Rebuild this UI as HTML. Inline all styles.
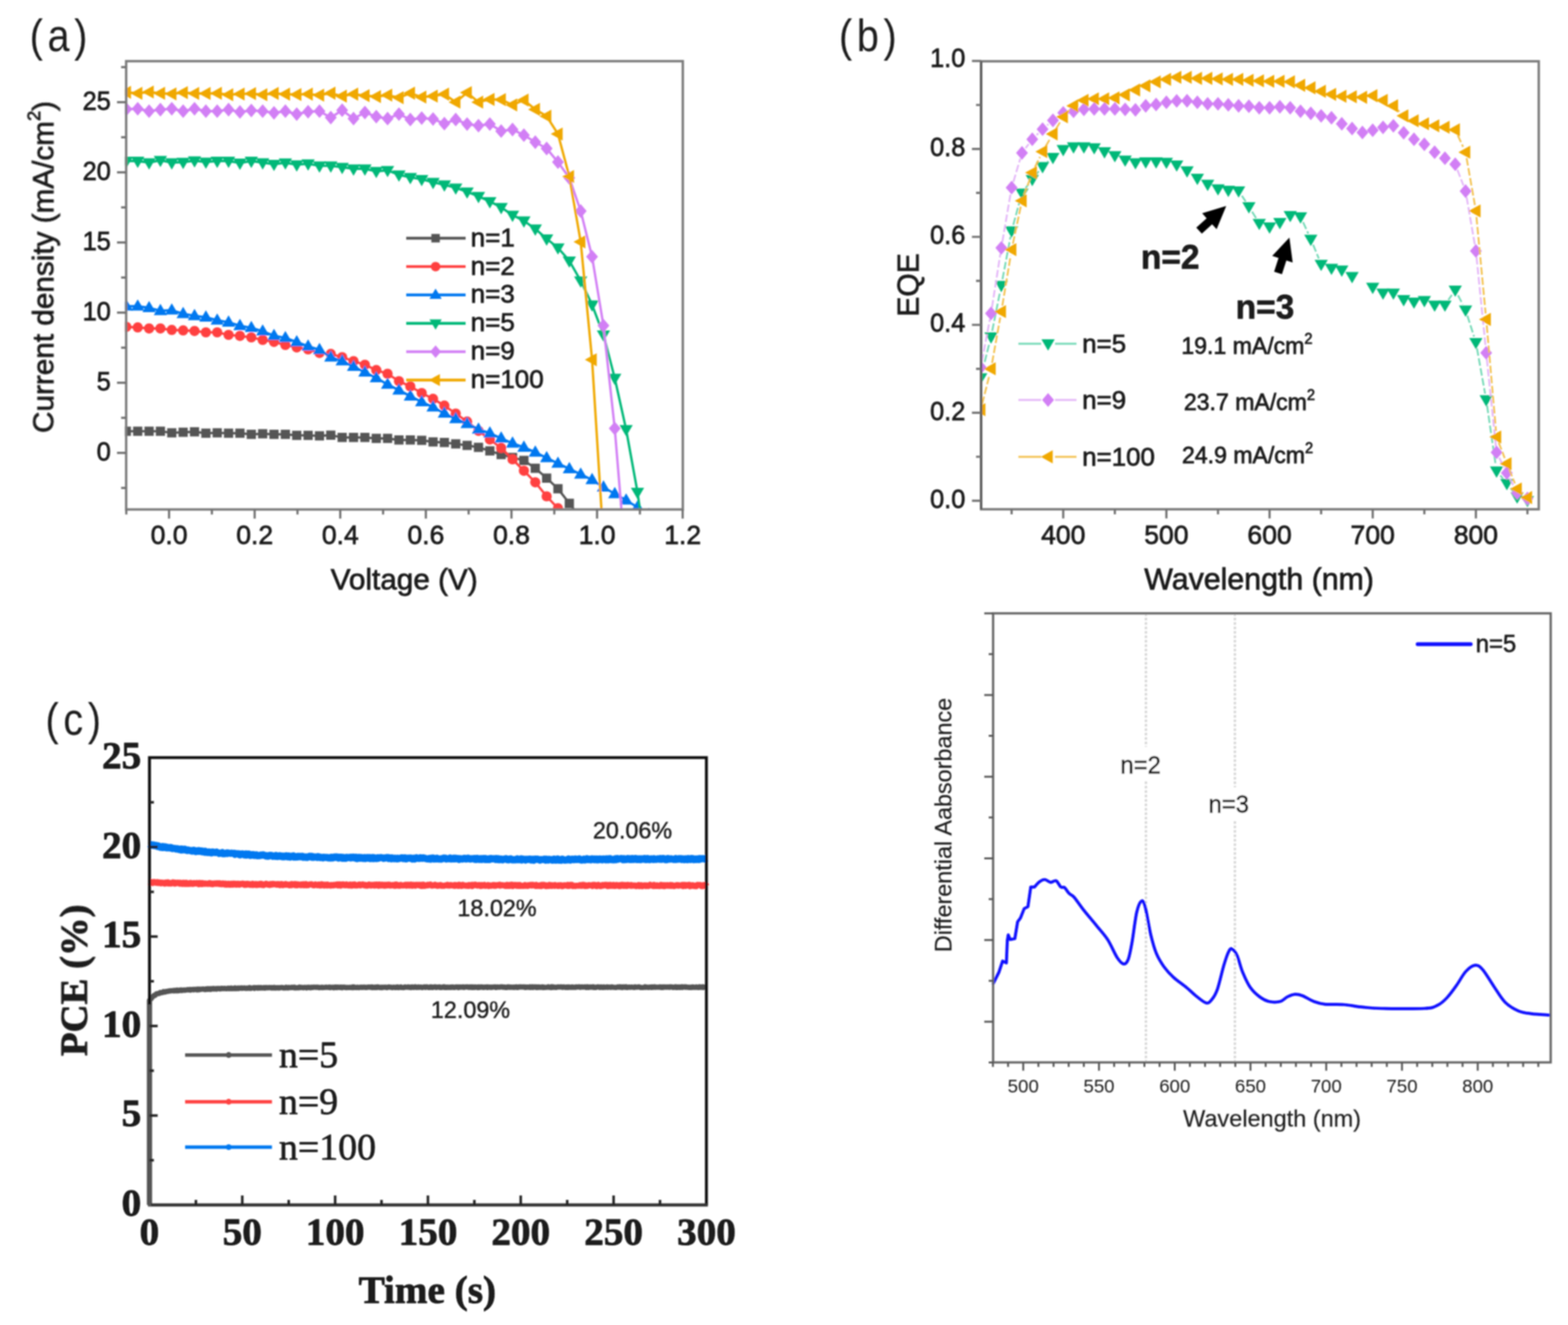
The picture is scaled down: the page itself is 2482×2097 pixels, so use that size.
<!DOCTYPE html>
<html lang="en"><head><meta charset="utf-8"><title>Figure: J-V curves, EQE, stabilized PCE and differential absorbance</title>
<style>
html,body{margin:0;padding:0;background:#fff;}
body{width:2482px;height:2097px;overflow:hidden;}
svg{display:block;}
text{font-family:"Liberation Sans",sans-serif;fill:#1a1a1a;}
.ser{font-family:"Liberation Serif",serif;}
</style></head><body>
<svg width="2482" height="2097" viewBox="0 0 2482 2097">
<defs><filter id="soft" x="0" y="0" width="2482" height="2097" filterUnits="userSpaceOnUse"><feGaussianBlur stdDeviation="0.8"/></filter></defs>
<rect width="2482" height="2097" fill="#ffffff"/>
<g filter="url(#soft)">
<g id="panel-a">
<clipPath id="clipA"><rect x="197.7" y="96.8" width="883.0999999999999" height="711.0"/></clipPath>
<g clip-path="url(#clipA)">
<polyline fill="none" stroke="#555555" stroke-width="3.7" stroke-linejoin="round" points="200,682.5 218,682.5 236,682.5 253.9,682.5 271.9,685 289.9,684.1 307.9,683.4 325.9,685.6 343.8,685 361.8,685.6 379.8,685.6 397.8,687.4 415.8,686.5 433.7,687.4 451.7,687.4 469.7,689 487.7,689 505.7,689.8 523.6,688.7 541.6,692.3 559.6,692.3 577.6,692.3 595.6,693.8 613.5,693.8 631.5,696.3 649.5,696.3 667.5,696.9 685.5,699.4 703.4,700.3 721.4,702.5 739.4,704.9 757.4,708 775.4,713.6 793.3,719.4 811.3,724 829.3,728.7 847.3,741.1 865.3,756.7 883.2,773.5 901.2,796.6 919.2,821"/>
<rect x="192.7" y="675.2" width="14.6" height="14.6" fill="#555555"/><rect x="210.7" y="675.2" width="14.6" height="14.6" fill="#555555"/><rect x="228.7" y="675.2" width="14.6" height="14.6" fill="#555555"/><rect x="246.6" y="675.2" width="14.6" height="14.6" fill="#555555"/><rect x="264.6" y="677.7" width="14.6" height="14.6" fill="#555555"/><rect x="282.6" y="676.8" width="14.6" height="14.6" fill="#555555"/><rect x="300.6" y="676.1" width="14.6" height="14.6" fill="#555555"/><rect x="318.6" y="678.3" width="14.6" height="14.6" fill="#555555"/><rect x="336.5" y="677.7" width="14.6" height="14.6" fill="#555555"/><rect x="354.5" y="678.3" width="14.6" height="14.6" fill="#555555"/><rect x="372.5" y="678.3" width="14.6" height="14.6" fill="#555555"/><rect x="390.5" y="680.1" width="14.6" height="14.6" fill="#555555"/><rect x="408.5" y="679.2" width="14.6" height="14.6" fill="#555555"/><rect x="426.4" y="680.1" width="14.6" height="14.6" fill="#555555"/><rect x="444.4" y="680.1" width="14.6" height="14.6" fill="#555555"/><rect x="462.4" y="681.7" width="14.6" height="14.6" fill="#555555"/><rect x="480.4" y="681.7" width="14.6" height="14.6" fill="#555555"/><rect x="498.4" y="682.5" width="14.6" height="14.6" fill="#555555"/><rect x="516.3" y="681.4" width="14.6" height="14.6" fill="#555555"/><rect x="534.3" y="685" width="14.6" height="14.6" fill="#555555"/><rect x="552.3" y="685" width="14.6" height="14.6" fill="#555555"/><rect x="570.3" y="685" width="14.6" height="14.6" fill="#555555"/><rect x="588.3" y="686.5" width="14.6" height="14.6" fill="#555555"/><rect x="606.2" y="686.5" width="14.6" height="14.6" fill="#555555"/><rect x="624.2" y="689" width="14.6" height="14.6" fill="#555555"/><rect x="642.2" y="689" width="14.6" height="14.6" fill="#555555"/><rect x="660.2" y="689.6" width="14.6" height="14.6" fill="#555555"/><rect x="678.2" y="692.1" width="14.6" height="14.6" fill="#555555"/><rect x="696.1" y="693" width="14.6" height="14.6" fill="#555555"/><rect x="714.1" y="695.2" width="14.6" height="14.6" fill="#555555"/><rect x="732.1" y="697.6" width="14.6" height="14.6" fill="#555555"/><rect x="750.1" y="700.7" width="14.6" height="14.6" fill="#555555"/><rect x="768.1" y="706.3" width="14.6" height="14.6" fill="#555555"/><rect x="786" y="712.1" width="14.6" height="14.6" fill="#555555"/><rect x="804" y="716.7" width="14.6" height="14.6" fill="#555555"/><rect x="822" y="721.4" width="14.6" height="14.6" fill="#555555"/><rect x="840" y="733.8" width="14.6" height="14.6" fill="#555555"/><rect x="858" y="749.4" width="14.6" height="14.6" fill="#555555"/><rect x="875.9" y="766.2" width="14.6" height="14.6" fill="#555555"/><rect x="893.9" y="789.3" width="14.6" height="14.6" fill="#555555"/><rect x="911.9" y="813.7" width="14.6" height="14.6" fill="#555555"/>
<polyline fill="none" stroke="#ff4040" stroke-width="3.7" stroke-linejoin="round" points="200,517.3 218,518.2 236,519.8 253.9,519.8 271.9,522.2 289.9,522.9 307.9,523.8 325.9,526 343.8,526 361.8,530 379.8,531.6 397.8,534 415.8,538 433.7,541.1 451.7,546 469.7,549.8 487.7,552.9 505.7,558.6 523.6,560.2 541.6,565.3 559.6,571.5 577.6,577.3 595.6,585.7 613.5,591.5 631.5,603.3 649.5,611.5 667.5,622.1 685.5,631.2 703.4,641.9 721.4,654.5 739.4,667.2 757.4,681.8 775.4,695.6 793.3,708.9 811.3,726.9 829.3,745.1 847.3,763.3 865.3,785.5 883.2,804.4 901.2,825.5"/>
<circle cx="200" cy="517.3" r="8.1" fill="#ff4040"/><circle cx="218" cy="518.2" r="8.1" fill="#ff4040"/><circle cx="236" cy="519.8" r="8.1" fill="#ff4040"/><circle cx="253.9" cy="519.8" r="8.1" fill="#ff4040"/><circle cx="271.9" cy="522.2" r="8.1" fill="#ff4040"/><circle cx="289.9" cy="522.9" r="8.1" fill="#ff4040"/><circle cx="307.9" cy="523.8" r="8.1" fill="#ff4040"/><circle cx="325.9" cy="526" r="8.1" fill="#ff4040"/><circle cx="343.8" cy="526" r="8.1" fill="#ff4040"/><circle cx="361.8" cy="530" r="8.1" fill="#ff4040"/><circle cx="379.8" cy="531.6" r="8.1" fill="#ff4040"/><circle cx="397.8" cy="534" r="8.1" fill="#ff4040"/><circle cx="415.8" cy="538" r="8.1" fill="#ff4040"/><circle cx="433.7" cy="541.1" r="8.1" fill="#ff4040"/><circle cx="451.7" cy="546" r="8.1" fill="#ff4040"/><circle cx="469.7" cy="549.8" r="8.1" fill="#ff4040"/><circle cx="487.7" cy="552.9" r="8.1" fill="#ff4040"/><circle cx="505.7" cy="558.6" r="8.1" fill="#ff4040"/><circle cx="523.6" cy="560.2" r="8.1" fill="#ff4040"/><circle cx="541.6" cy="565.3" r="8.1" fill="#ff4040"/><circle cx="559.6" cy="571.5" r="8.1" fill="#ff4040"/><circle cx="577.6" cy="577.3" r="8.1" fill="#ff4040"/><circle cx="595.6" cy="585.7" r="8.1" fill="#ff4040"/><circle cx="613.5" cy="591.5" r="8.1" fill="#ff4040"/><circle cx="631.5" cy="603.3" r="8.1" fill="#ff4040"/><circle cx="649.5" cy="611.5" r="8.1" fill="#ff4040"/><circle cx="667.5" cy="622.1" r="8.1" fill="#ff4040"/><circle cx="685.5" cy="631.2" r="8.1" fill="#ff4040"/><circle cx="703.4" cy="641.9" r="8.1" fill="#ff4040"/><circle cx="721.4" cy="654.5" r="8.1" fill="#ff4040"/><circle cx="739.4" cy="667.2" r="8.1" fill="#ff4040"/><circle cx="757.4" cy="681.8" r="8.1" fill="#ff4040"/><circle cx="775.4" cy="695.6" r="8.1" fill="#ff4040"/><circle cx="793.3" cy="708.9" r="8.1" fill="#ff4040"/><circle cx="811.3" cy="726.9" r="8.1" fill="#ff4040"/><circle cx="829.3" cy="745.1" r="8.1" fill="#ff4040"/><circle cx="847.3" cy="763.3" r="8.1" fill="#ff4040"/><circle cx="865.3" cy="785.5" r="8.1" fill="#ff4040"/><circle cx="883.2" cy="804.4" r="8.1" fill="#ff4040"/><circle cx="901.2" cy="825.5" r="8.1" fill="#ff4040"/>
<polyline fill="none" stroke="#0078f0" stroke-width="3.7" stroke-linejoin="round" points="200,484.7 218,484.7 236,487.2 253.9,491.8 271.9,490.9 289.9,496.5 307.9,499.8 325.9,502 343.8,506.9 361.8,510 379.8,515.6 397.8,518.7 415.8,524.2 433.7,531.3 451.7,534.7 469.7,541.3 487.7,548 505.7,553.5 523.6,565.3 541.6,571.3 559.6,580.2 577.6,589.1 595.6,598.2 613.5,608.4 631.5,617.5 649.5,627 667.5,636.1 685.5,644.3 703.4,654.1 721.4,662.8 739.4,670.5 757.4,679.4 775.4,685.6 793.3,693.6 811.3,701.6 829.3,708 847.3,715.8 865.3,724.7 883.2,733.4 901.2,742 919.2,750.7 937.2,759.3 955.2,771.1 973.1,781.5 991.1,791.7 1009.1,802.8 1027.1,814.4"/>
<path d="M189.5 491.6H210.5L200 473.7Z" fill="#0078f0"/><path d="M207.5 491.6H228.5L218 473.7Z" fill="#0078f0"/><path d="M225.5 494.1H246.5L236 476.2Z" fill="#0078f0"/><path d="M243.4 498.7H264.4L253.9 480.8Z" fill="#0078f0"/><path d="M261.4 497.8H282.4L271.9 479.9Z" fill="#0078f0"/><path d="M279.4 503.4H300.4L289.9 485.5Z" fill="#0078f0"/><path d="M297.4 506.7H318.4L307.9 488.8Z" fill="#0078f0"/><path d="M315.4 508.9H336.4L325.9 491Z" fill="#0078f0"/><path d="M333.3 513.8H354.3L343.8 495.9Z" fill="#0078f0"/><path d="M351.3 516.9H372.3L361.8 499Z" fill="#0078f0"/><path d="M369.3 522.5H390.3L379.8 504.6Z" fill="#0078f0"/><path d="M387.3 525.6H408.3L397.8 507.7Z" fill="#0078f0"/><path d="M405.3 531.1H426.3L415.8 513.2Z" fill="#0078f0"/><path d="M423.2 538.2H444.2L433.7 520.3Z" fill="#0078f0"/><path d="M441.2 541.6H462.2L451.7 523.7Z" fill="#0078f0"/><path d="M459.2 548.2H480.2L469.7 530.3Z" fill="#0078f0"/><path d="M477.2 554.9H498.2L487.7 537Z" fill="#0078f0"/><path d="M495.2 560.4H516.2L505.7 542.5Z" fill="#0078f0"/><path d="M513.1 572.2H534.1L523.6 554.3Z" fill="#0078f0"/><path d="M531.1 578.2H552.1L541.6 560.3Z" fill="#0078f0"/><path d="M549.1 587.1H570.1L559.6 569.2Z" fill="#0078f0"/><path d="M567.1 596H588.1L577.6 578.1Z" fill="#0078f0"/><path d="M585.1 605.1H606.1L595.6 587.2Z" fill="#0078f0"/><path d="M603 615.3H624L613.5 597.4Z" fill="#0078f0"/><path d="M621 624.4H642L631.5 606.5Z" fill="#0078f0"/><path d="M639 633.9H660L649.5 616Z" fill="#0078f0"/><path d="M657 643H678L667.5 625.1Z" fill="#0078f0"/><path d="M675 651.2H696L685.5 633.3Z" fill="#0078f0"/><path d="M692.9 661H713.9L703.4 643.1Z" fill="#0078f0"/><path d="M710.9 669.7H731.9L721.4 651.8Z" fill="#0078f0"/><path d="M728.9 677.4H749.9L739.4 659.5Z" fill="#0078f0"/><path d="M746.9 686.3H767.9L757.4 668.4Z" fill="#0078f0"/><path d="M764.9 692.5H785.9L775.4 674.6Z" fill="#0078f0"/><path d="M782.8 700.5H803.8L793.3 682.6Z" fill="#0078f0"/><path d="M800.8 708.5H821.8L811.3 690.6Z" fill="#0078f0"/><path d="M818.8 714.9H839.8L829.3 697Z" fill="#0078f0"/><path d="M836.8 722.7H857.8L847.3 704.8Z" fill="#0078f0"/><path d="M854.8 731.6H875.8L865.3 713.7Z" fill="#0078f0"/><path d="M872.7 740.2H893.7L883.2 722.4Z" fill="#0078f0"/><path d="M890.7 748.9H911.7L901.2 731Z" fill="#0078f0"/><path d="M908.7 757.6H929.7L919.2 739.7Z" fill="#0078f0"/><path d="M926.7 766.2H947.7L937.2 748.3Z" fill="#0078f0"/><path d="M944.7 778H965.7L955.2 760.1Z" fill="#0078f0"/><path d="M962.6 788.4H983.6L973.1 770.5Z" fill="#0078f0"/><path d="M980.6 798.6H1001.6L991.1 780.7Z" fill="#0078f0"/><path d="M998.6 809.7H1019.6L1009.1 791.8Z" fill="#0078f0"/><path d="M1016.6 821.3H1037.6L1027.1 803.4Z" fill="#0078f0"/>
<polyline fill="none" stroke="#00b878" stroke-width="3.7" stroke-linejoin="round" points="200,254.9 218,254.9 236,257.4 253.9,253.6 271.9,257.4 289.9,256.7 307.9,254.3 325.9,256.3 343.8,254.9 361.8,254.9 379.8,258 397.8,254.9 415.8,257.4 433.7,259.8 451.7,257.6 469.7,260.7 487.7,259.2 505.7,262.5 523.6,262.5 541.6,264.7 559.6,267.2 577.6,267.2 595.6,271.1 613.5,269.6 631.5,276.7 649.5,280.7 667.5,283.8 685.5,288.5 703.4,292.5 721.4,297.3 739.4,303.6 757.4,310.7 775.4,318.9 793.3,328.2 811.3,340.4 829.3,349.5 847.3,362.2 865.3,377.9 883.2,392.1 901.2,412.8 919.2,444.3 937.2,482.3 955.2,529.8 973.1,598.4 991.1,679.6 1009.1,778.9 1027.1,905.4"/>
<path d="M189.5 248H210.5L200 265.9Z" fill="#00b878"/><path d="M207.5 248H228.5L218 265.9Z" fill="#00b878"/><path d="M225.5 250.5H246.5L236 268.4Z" fill="#00b878"/><path d="M243.4 246.7H264.4L253.9 264.6Z" fill="#00b878"/><path d="M261.4 250.5H282.4L271.9 268.4Z" fill="#00b878"/><path d="M279.4 249.8H300.4L289.9 267.7Z" fill="#00b878"/><path d="M297.4 247.4H318.4L307.9 265.3Z" fill="#00b878"/><path d="M315.4 249.4H336.4L325.9 267.3Z" fill="#00b878"/><path d="M333.3 248H354.3L343.8 265.9Z" fill="#00b878"/><path d="M351.3 248H372.3L361.8 265.9Z" fill="#00b878"/><path d="M369.3 251.1H390.3L379.8 269Z" fill="#00b878"/><path d="M387.3 248H408.3L397.8 265.9Z" fill="#00b878"/><path d="M405.3 250.5H426.3L415.8 268.4Z" fill="#00b878"/><path d="M423.2 252.9H444.2L433.7 270.8Z" fill="#00b878"/><path d="M441.2 250.7H462.2L451.7 268.6Z" fill="#00b878"/><path d="M459.2 253.8H480.2L469.7 271.7Z" fill="#00b878"/><path d="M477.2 252.3H498.2L487.7 270.2Z" fill="#00b878"/><path d="M495.2 255.6H516.2L505.7 273.5Z" fill="#00b878"/><path d="M513.1 255.6H534.1L523.6 273.5Z" fill="#00b878"/><path d="M531.1 257.8H552.1L541.6 275.7Z" fill="#00b878"/><path d="M549.1 260.3H570.1L559.6 278.2Z" fill="#00b878"/><path d="M567.1 260.3H588.1L577.6 278.2Z" fill="#00b878"/><path d="M585.1 264.2H606.1L595.6 282.1Z" fill="#00b878"/><path d="M603 262.7H624L613.5 280.6Z" fill="#00b878"/><path d="M621 269.8H642L631.5 287.7Z" fill="#00b878"/><path d="M639 273.8H660L649.5 291.7Z" fill="#00b878"/><path d="M657 276.9H678L667.5 294.8Z" fill="#00b878"/><path d="M675 281.6H696L685.5 299.5Z" fill="#00b878"/><path d="M692.9 285.6H713.9L703.4 303.5Z" fill="#00b878"/><path d="M710.9 290.4H731.9L721.4 308.3Z" fill="#00b878"/><path d="M728.9 296.7H749.9L739.4 314.6Z" fill="#00b878"/><path d="M746.9 303.8H767.9L757.4 321.7Z" fill="#00b878"/><path d="M764.9 312H785.9L775.4 329.9Z" fill="#00b878"/><path d="M782.8 321.3H803.8L793.3 339.2Z" fill="#00b878"/><path d="M800.8 333.5H821.8L811.3 351.4Z" fill="#00b878"/><path d="M818.8 342.6H839.8L829.3 360.5Z" fill="#00b878"/><path d="M836.8 355.3H857.8L847.3 373.2Z" fill="#00b878"/><path d="M854.8 371H875.8L865.3 388.9Z" fill="#00b878"/><path d="M872.7 385.2H893.7L883.2 403.1Z" fill="#00b878"/><path d="M890.7 405.9H911.7L901.2 423.8Z" fill="#00b878"/><path d="M908.7 437.4H929.7L919.2 455.3Z" fill="#00b878"/><path d="M926.7 475.4H947.7L937.2 493.3Z" fill="#00b878"/><path d="M944.7 522.9H965.7L955.2 540.8Z" fill="#00b878"/><path d="M962.6 591.5H983.6L973.1 609.4Z" fill="#00b878"/><path d="M980.6 672.7H1001.6L991.1 690.6Z" fill="#00b878"/><path d="M998.6 772H1019.6L1009.1 789.9Z" fill="#00b878"/><path d="M1016.6 898.5H1037.6L1027.1 916.4Z" fill="#00b878"/>
<polyline fill="none" stroke="#d27ff5" stroke-width="3.7" stroke-linejoin="round" points="200,172.8 218,172.1 236,175.9 253.9,173.5 271.9,172.1 289.9,175.9 307.9,172.1 325.9,175.9 343.8,175.9 361.8,173.5 379.8,177.2 397.8,174.8 415.8,175.9 433.7,178.6 451.7,175.9 469.7,180.6 487.7,176.8 505.7,175.9 523.6,186.1 541.6,174.4 559.6,187.7 577.6,178.1 595.6,184.6 613.5,187.7 631.5,180.6 649.5,189.2 667.5,186.8 685.5,188.3 703.4,195.7 721.4,189.2 739.4,196.3 757.4,198.8 775.4,196.3 793.3,207.4 811.3,205 829.3,213.9 847.3,225 865.3,235 883.2,256.5 901.2,281.6 919.2,334 937.2,406.3 955.2,515.3 973.1,678.1 991.1,896.5"/>
<path d="M190.6 172.8L200 161.9L209.4 172.8L200 183.7Z" fill="#d27ff5"/><path d="M208.6 172.1L218 161.2L227.4 172.1L218 183Z" fill="#d27ff5"/><path d="M226.6 175.9L236 165L245.4 175.9L236 186.8Z" fill="#d27ff5"/><path d="M244.5 173.5L253.9 162.6L263.3 173.5L253.9 184.4Z" fill="#d27ff5"/><path d="M262.5 172.1L271.9 161.2L281.3 172.1L271.9 183Z" fill="#d27ff5"/><path d="M280.5 175.9L289.9 165L299.3 175.9L289.9 186.8Z" fill="#d27ff5"/><path d="M298.5 172.1L307.9 161.2L317.3 172.1L307.9 183Z" fill="#d27ff5"/><path d="M316.5 175.9L325.9 165L335.3 175.9L325.9 186.8Z" fill="#d27ff5"/><path d="M334.4 175.9L343.8 165L353.2 175.9L343.8 186.8Z" fill="#d27ff5"/><path d="M352.4 173.5L361.8 162.6L371.2 173.5L361.8 184.4Z" fill="#d27ff5"/><path d="M370.4 177.2L379.8 166.3L389.2 177.2L379.8 188.1Z" fill="#d27ff5"/><path d="M388.4 174.8L397.8 163.9L407.2 174.8L397.8 185.7Z" fill="#d27ff5"/><path d="M406.4 175.9L415.8 165L425.2 175.9L415.8 186.8Z" fill="#d27ff5"/><path d="M424.3 178.6L433.7 167.7L443.1 178.6L433.7 189.5Z" fill="#d27ff5"/><path d="M442.3 175.9L451.7 165L461.1 175.9L451.7 186.8Z" fill="#d27ff5"/><path d="M460.3 180.6L469.7 169.7L479.1 180.6L469.7 191.5Z" fill="#d27ff5"/><path d="M478.3 176.8L487.7 165.9L497.1 176.8L487.7 187.7Z" fill="#d27ff5"/><path d="M496.3 175.9L505.7 165L515.1 175.9L505.7 186.8Z" fill="#d27ff5"/><path d="M514.2 186.1L523.6 175.2L533 186.1L523.6 197Z" fill="#d27ff5"/><path d="M532.2 174.4L541.6 163.5L551 174.4L541.6 185.3Z" fill="#d27ff5"/><path d="M550.2 187.7L559.6 176.8L569 187.7L559.6 198.6Z" fill="#d27ff5"/><path d="M568.2 178.1L577.6 167.2L587 178.1L577.6 189Z" fill="#d27ff5"/><path d="M586.2 184.6L595.6 173.7L605 184.6L595.6 195.5Z" fill="#d27ff5"/><path d="M604.1 187.7L613.5 176.8L622.9 187.7L613.5 198.6Z" fill="#d27ff5"/><path d="M622.1 180.6L631.5 169.7L640.9 180.6L631.5 191.5Z" fill="#d27ff5"/><path d="M640.1 189.2L649.5 178.3L658.9 189.2L649.5 200.1Z" fill="#d27ff5"/><path d="M658.1 186.8L667.5 175.9L676.9 186.8L667.5 197.7Z" fill="#d27ff5"/><path d="M676.1 188.3L685.5 177.4L694.9 188.3L685.5 199.2Z" fill="#d27ff5"/><path d="M694 195.7L703.4 184.8L712.8 195.7L703.4 206.6Z" fill="#d27ff5"/><path d="M712 189.2L721.4 178.3L730.8 189.2L721.4 200.1Z" fill="#d27ff5"/><path d="M730 196.3L739.4 185.4L748.8 196.3L739.4 207.2Z" fill="#d27ff5"/><path d="M748 198.8L757.4 187.9L766.8 198.8L757.4 209.7Z" fill="#d27ff5"/><path d="M766 196.3L775.4 185.4L784.8 196.3L775.4 207.2Z" fill="#d27ff5"/><path d="M783.9 207.4L793.3 196.5L802.7 207.4L793.3 218.3Z" fill="#d27ff5"/><path d="M801.9 205L811.3 194.1L820.7 205L811.3 215.9Z" fill="#d27ff5"/><path d="M819.9 213.9L829.3 203L838.7 213.9L829.3 224.8Z" fill="#d27ff5"/><path d="M837.9 225L847.3 214.1L856.7 225L847.3 235.9Z" fill="#d27ff5"/><path d="M855.9 235L865.3 224.1L874.7 235L865.3 245.9Z" fill="#d27ff5"/><path d="M873.8 256.5L883.2 245.6L892.6 256.5L883.2 267.4Z" fill="#d27ff5"/><path d="M891.8 281.6L901.2 270.7L910.6 281.6L901.2 292.5Z" fill="#d27ff5"/><path d="M909.8 334L919.2 323.1L928.6 334L919.2 344.9Z" fill="#d27ff5"/><path d="M927.8 406.3L937.2 395.4L946.6 406.3L937.2 417.2Z" fill="#d27ff5"/><path d="M945.8 515.3L955.2 504.4L964.6 515.3L955.2 526.2Z" fill="#d27ff5"/><path d="M963.7 678.1L973.1 667.2L982.5 678.1L973.1 689Z" fill="#d27ff5"/><path d="M981.7 896.5L991.1 885.6L1000.5 896.5L991.1 907.4Z" fill="#d27ff5"/>
<polyline fill="none" stroke="#f0a800" stroke-width="3.7" stroke-linejoin="round" points="200,146.2 218,147.7 236,145.7 253.9,147.7 271.9,148.6 289.9,146.6 307.9,147.9 325.9,147.9 343.8,147.7 361.8,149.9 379.8,148.8 397.8,148.2 415.8,149.9 433.7,147.9 451.7,149 469.7,149.7 487.7,149 505.7,150.6 523.6,147.5 541.6,152.2 559.6,149 577.6,151.3 595.6,152.8 613.5,150.6 631.5,154.6 649.5,147.5 667.5,153.7 685.5,152.2 703.4,149 721.4,161.7 739.4,146.6 757.4,161.7 775.4,157.3 793.3,157.7 811.3,166.1 829.3,158.4 847.3,173.2 865.3,183.9 883.2,212.1 901.2,279.4 919.2,382.8 937.2,569.3 955.2,856.6"/>
<path d="M207.4 135.8V156.6L188.6 146.2Z" fill="#f0a800"/><path d="M225.4 137.3V158.1L206.6 147.7Z" fill="#f0a800"/><path d="M243.4 135.3V156.1L224.6 145.7Z" fill="#f0a800"/><path d="M261.3 137.3V158.1L242.5 147.7Z" fill="#f0a800"/><path d="M279.3 138.2V159L260.5 148.6Z" fill="#f0a800"/><path d="M297.3 136.2V157L278.5 146.6Z" fill="#f0a800"/><path d="M315.3 137.5V158.3L296.5 147.9Z" fill="#f0a800"/><path d="M333.3 137.5V158.3L314.5 147.9Z" fill="#f0a800"/><path d="M351.2 137.3V158.1L332.4 147.7Z" fill="#f0a800"/><path d="M369.2 139.5V160.3L350.4 149.9Z" fill="#f0a800"/><path d="M387.2 138.4V159.2L368.4 148.8Z" fill="#f0a800"/><path d="M405.2 137.8V158.6L386.4 148.2Z" fill="#f0a800"/><path d="M423.2 139.5V160.3L404.4 149.9Z" fill="#f0a800"/><path d="M441.1 137.5V158.3L422.3 147.9Z" fill="#f0a800"/><path d="M459.1 138.6V159.4L440.3 149Z" fill="#f0a800"/><path d="M477.1 139.3V160.1L458.3 149.7Z" fill="#f0a800"/><path d="M495.1 138.6V159.4L476.3 149Z" fill="#f0a800"/><path d="M513.1 140.2V161L494.3 150.6Z" fill="#f0a800"/><path d="M531 137.1V157.9L512.2 147.5Z" fill="#f0a800"/><path d="M549 141.8V162.6L530.2 152.2Z" fill="#f0a800"/><path d="M567 138.6V159.4L548.2 149Z" fill="#f0a800"/><path d="M585 140.9V161.7L566.2 151.3Z" fill="#f0a800"/><path d="M603 142.4V163.2L584.2 152.8Z" fill="#f0a800"/><path d="M620.9 140.2V161L602.1 150.6Z" fill="#f0a800"/><path d="M638.9 144.2V165L620.1 154.6Z" fill="#f0a800"/><path d="M656.9 137.1V157.9L638.1 147.5Z" fill="#f0a800"/><path d="M674.9 143.3V164.1L656.1 153.7Z" fill="#f0a800"/><path d="M692.9 141.8V162.6L674.1 152.2Z" fill="#f0a800"/><path d="M710.8 138.6V159.4L692 149Z" fill="#f0a800"/><path d="M728.8 151.3V172.1L710 161.7Z" fill="#f0a800"/><path d="M746.8 136.2V157L728 146.6Z" fill="#f0a800"/><path d="M764.8 151.3V172.1L746 161.7Z" fill="#f0a800"/><path d="M782.8 146.9V167.7L764 157.3Z" fill="#f0a800"/><path d="M800.7 147.3V168.1L781.9 157.7Z" fill="#f0a800"/><path d="M818.7 155.7V176.5L799.9 166.1Z" fill="#f0a800"/><path d="M836.7 148V168.8L817.9 158.4Z" fill="#f0a800"/><path d="M854.7 162.8V183.6L835.9 173.2Z" fill="#f0a800"/><path d="M872.7 173.5V194.3L853.9 183.9Z" fill="#f0a800"/><path d="M890.6 201.7V222.5L871.8 212.1Z" fill="#f0a800"/><path d="M908.6 269V289.8L889.8 279.4Z" fill="#f0a800"/><path d="M926.6 372.4V393.2L907.8 382.8Z" fill="#f0a800"/><path d="M944.6 558.9V579.7L925.8 569.3Z" fill="#f0a800"/><path d="M962.6 846.2V867L943.8 856.6Z" fill="#f0a800"/>
</g>
<rect x="199.7" y="96.8" width="881.0999999999999" height="709.5" fill="none" stroke="#7c7c7c" stroke-width="3.8"/>
<path d="M185.2 716.7H199.7M185.2 605.7H199.7M185.2 494.7H199.7M185.2 383.7H199.7M185.2 272.7H199.7M185.2 161.7H199.7M191.7 772.2H199.7M191.7 661.2H199.7M191.7 550.2H199.7M191.7 439.2H199.7M191.7 328.2H199.7M191.7 217.2H199.7M191.7 106.2H199.7M267.6 806.3V820.8M403.1 806.3V820.8M538.6 806.3V820.8M674.1 806.3V820.8M809.6 806.3V820.8M945.1 806.3V820.8M1080.6 806.3V820.8M199.9 806.3V814.3M335.4 806.3V814.3M470.9 806.3V814.3M606.4 806.3V814.3M741.8 806.3V814.3M877.4 806.3V814.3M1012.9 806.3V814.3" stroke="#707070" stroke-width="3.4" fill="none"/>
<text transform="translate(175.5,728.5) scale(0.96,1)" font-size="42" fill="#0c0c0c" text-anchor="end" stroke="#0c0c0c" stroke-width="0.9">0</text>
<text transform="translate(175.5,617.5) scale(0.96,1)" font-size="42" fill="#0c0c0c" text-anchor="end" stroke="#0c0c0c" stroke-width="0.9">5</text>
<text transform="translate(175.5,506.5) scale(0.96,1)" font-size="42" fill="#0c0c0c" text-anchor="end" stroke="#0c0c0c" stroke-width="0.9">10</text>
<text transform="translate(175.5,395.5) scale(0.96,1)" font-size="42" fill="#0c0c0c" text-anchor="end" stroke="#0c0c0c" stroke-width="0.9">15</text>
<text transform="translate(175.5,284.5) scale(0.96,1)" font-size="42" fill="#0c0c0c" text-anchor="end" stroke="#0c0c0c" stroke-width="0.9">20</text>
<text transform="translate(175.5,173.5) scale(0.96,1)" font-size="42" fill="#0c0c0c" text-anchor="end" stroke="#0c0c0c" stroke-width="0.9">25</text>
<text x="267.6" y="861" font-size="42" fill="#0c0c0c" text-anchor="middle" stroke="#0c0c0c" stroke-width="0.9">0.0</text>
<text x="403.1" y="861" font-size="42" fill="#0c0c0c" text-anchor="middle" stroke="#0c0c0c" stroke-width="0.9">0.2</text>
<text x="538.6" y="861" font-size="42" fill="#0c0c0c" text-anchor="middle" stroke="#0c0c0c" stroke-width="0.9">0.4</text>
<text x="674.1" y="861" font-size="42" fill="#0c0c0c" text-anchor="middle" stroke="#0c0c0c" stroke-width="0.9">0.6</text>
<text x="809.6" y="861" font-size="42" fill="#0c0c0c" text-anchor="middle" stroke="#0c0c0c" stroke-width="0.9">0.8</text>
<text x="945.1" y="861" font-size="42" fill="#0c0c0c" text-anchor="middle" stroke="#0c0c0c" stroke-width="0.9">1.0</text>
<text x="1080.6" y="861" font-size="42" fill="#0c0c0c" text-anchor="middle" stroke="#0c0c0c" stroke-width="0.9">1.2</text>
<text x="639.8" y="933" font-size="47" fill="#0c0c0c" text-anchor="middle" stroke="#0c0c0c" stroke-width="0.9">Voltage (V)</text>
<text transform="translate(84.5,422.5) rotate(-90)" font-size="47" fill="#0c0c0c" text-anchor="middle" stroke="#0c0c0c" stroke-width="0.9">Current density (mA/cm<tspan font-size="29" dy="-21">2</tspan><tspan dy="21">)</tspan></text>
<text transform="translate(47,81) scale(0.87,1)" font-size="72" fill="#0c0c0c" letter-spacing="8.5">(a)</text>
<path d="M643 377H737" stroke="#555555" stroke-width="4.4"/><rect x="682.8" y="370.3" width="13.4" height="13.4" fill="#555555"/>
<text x="745" y="389.6" font-size="41.2" fill="#0c0c0c" stroke="#0c0c0c" stroke-width="0.9">n=1</text>
<path d="M643 421.9H737" stroke="#ff4040" stroke-width="4.4"/><circle cx="689.5" cy="421.9" r="7.5" fill="#ff4040"/>
<text x="745" y="434.5" font-size="41.2" fill="#0c0c0c" stroke="#0c0c0c" stroke-width="0.9">n=2</text>
<path d="M643 466.8H737" stroke="#0078f0" stroke-width="4.4"/><path d="M679.8 473.1H699.2L689.5 456.7Z" fill="#0078f0"/>
<text x="745" y="479.4" font-size="41.2" fill="#0c0c0c" stroke="#0c0c0c" stroke-width="0.9">n=3</text>
<path d="M643 511.7H737" stroke="#00b878" stroke-width="4.4"/><path d="M679.8 505.4H699.2L689.5 521.8Z" fill="#00b878"/>
<text x="745" y="524.3" font-size="41.2" fill="#0c0c0c" stroke="#0c0c0c" stroke-width="0.9">n=5</text>
<path d="M643 556.6H737" stroke="#d27ff5" stroke-width="4.4"/><path d="M680.9 556.6L689.5 546.6L698.1 556.6L689.5 566.6Z" fill="#d27ff5"/>
<text x="745" y="569.2" font-size="41.2" fill="#0c0c0c" stroke="#0c0c0c" stroke-width="0.9">n=9</text>
<path d="M643 601.5H737" stroke="#f0a800" stroke-width="4.4"/><path d="M696.3 591.9V611.1L679 601.5Z" fill="#f0a800"/>
<text x="745" y="614.1" font-size="41.2" fill="#0c0c0c" stroke="#0c0c0c" stroke-width="0.9">n=100</text>
</g>
<g id="panel-b">
<clipPath id="clipB"><rect x="1551.0" y="97.0" width="884.6999999999998" height="710.5"/></clipPath>
<g clip-path="url(#clipB)">
<path fill="none" stroke="#6fd8b4" stroke-width="2.8" stroke-dasharray="12 4" d="M1554.7 588.4L1566.4 542.1M1570.6 523.6L1583.2 460.8M1586.8 442.1L1599.6 374.5M1603.9 356L1615.2 314.5M1623.4 297.7L1628.3 291.3M1640 276.3L1644.4 270.9M1657.4 257.2L1659.6 255.3M1965.8 309.8L1971.8 318.9M1981.9 335L1988.3 345.2M2062.6 351.5L2070.9 369.7M2078.5 387.2L2087.6 409.3M2292.6 474.7L2298.2 466.7M2307.9 467.3L2315.5 482M2322.7 499.5L2333.3 532.7M2337.9 551.2L2350.8 623.1M2353.9 641.8L2367.5 735.8M2374.9 752.5L2379.2 757.7M2391 772.5L2395.7 778.7"/>
<path d="M1541.9 590.7H1562.9L1552.4 608.6Z" fill="#00b878"/><path d="M1558.2 526H1579.2L1568.7 543.9Z" fill="#00b878"/><path d="M1574.5 444.6H1595.5L1585 462.5Z" fill="#00b878"/><path d="M1590.8 358.3H1611.8L1601.3 376.2Z" fill="#00b878"/><path d="M1607.2 298.4H1628.2L1617.7 316.3Z" fill="#00b878"/><path d="M1623.5 276.8H1644.5L1634 294.7Z" fill="#00b878"/><path d="M1639.8 256.6H1660.8L1650.3 274.5Z" fill="#00b878"/><path d="M1656.2 242H1677.2L1666.7 259.9Z" fill="#00b878"/><path d="M1672.5 229.5H1693.5L1683 247.4Z" fill="#00b878"/><path d="M1688.8 225.3H1709.8L1699.3 243.2Z" fill="#00b878"/><path d="M1705.2 225.3H1726.2L1715.7 243.2Z" fill="#00b878"/><path d="M1721.5 226.7H1742.5L1732 244.6Z" fill="#00b878"/><path d="M1737.8 233H1758.8L1748.3 250.9Z" fill="#00b878"/><path d="M1754.2 239.2H1775.2L1764.7 257.1Z" fill="#00b878"/><path d="M1770.5 246.2H1791.5L1781 264.1Z" fill="#00b878"/><path d="M1786.8 250.4H1807.8L1797.3 268.3Z" fill="#00b878"/><path d="M1803.1 249H1824.1L1813.6 266.9Z" fill="#00b878"/><path d="M1819.5 249H1840.5L1830 266.9Z" fill="#00b878"/><path d="M1835.8 249.7H1856.8L1846.3 267.6Z" fill="#00b878"/><path d="M1852.1 253.9H1873.1L1862.6 271.8Z" fill="#00b878"/><path d="M1868.5 263.3H1889.5L1879 281.2Z" fill="#00b878"/><path d="M1884.8 275.1H1905.8L1895.3 293Z" fill="#00b878"/><path d="M1901.1 284.6H1922.1L1911.6 302.5Z" fill="#00b878"/><path d="M1917.5 291.7H1938.5L1928 309.6Z" fill="#00b878"/><path d="M1933.8 294.1H1954.8L1944.3 312Z" fill="#00b878"/><path d="M1950.1 294.9H1971.1L1960.6 312.8Z" fill="#00b878"/><path d="M1966.4 320H1987.4L1976.9 337.9Z" fill="#00b878"/><path d="M1982.8 346.4H2003.8L1993.3 364.3Z" fill="#00b878"/><path d="M1999.1 352H2020.1L2009.6 369.9Z" fill="#00b878"/><path d="M2015.4 345H2036.4L2025.9 362.9Z" fill="#00b878"/><path d="M2031.8 333.9H2052.8L2042.3 351.8Z" fill="#00b878"/><path d="M2048.1 336H2069.1L2058.6 353.9Z" fill="#00b878"/><path d="M2064.4 371.5H2085.4L2074.9 389.4Z" fill="#00b878"/><path d="M2080.8 411.2H2101.8L2091.2 429.1Z" fill="#00b878"/><path d="M2097.1 417.4H2118.1L2107.6 435.3Z" fill="#00b878"/><path d="M2113.4 420.3H2134.4L2123.9 438.2Z" fill="#00b878"/><path d="M2129.7 430.6H2150.7L2140.2 448.5Z" fill="#00b878"/><path d="M2162.4 447.6H2183.4L2172.9 465.5Z" fill="#00b878"/><path d="M2178.7 456.7H2199.7L2189.2 474.6Z" fill="#00b878"/><path d="M2195.1 456.7H2216.1L2205.6 474.6Z" fill="#00b878"/><path d="M2211.4 467H2232.4L2221.9 484.9Z" fill="#00b878"/><path d="M2227.7 470.9H2248.7L2238.2 488.8Z" fill="#00b878"/><path d="M2244.1 468.5H2265.1L2254.6 486.4Z" fill="#00b878"/><path d="M2260.4 475.7H2281.4L2270.9 493.6Z" fill="#00b878"/><path d="M2276.7 475.7H2297.7L2287.2 493.6Z" fill="#00b878"/><path d="M2293 451.9H2314L2303.5 469.8Z" fill="#00b878"/><path d="M2309.4 483.5H2330.4L2319.9 501.4Z" fill="#00b878"/><path d="M2325.7 534.9H2346.7L2336.2 552.8Z" fill="#00b878"/><path d="M2342 625.5H2363L2352.5 643.4Z" fill="#00b878"/><path d="M2358.4 738.3H2379.4L2368.9 756.2Z" fill="#00b878"/><path d="M2374.7 758.1H2395.7L2385.2 776Z" fill="#00b878"/><path d="M2391 779.3H2412L2401.5 797.2Z" fill="#00b878"/><path d="M2407.3 784.9H2428.3L2417.8 802.8Z" fill="#00b878"/>
<path fill="none" stroke="#e3b4f8" stroke-width="2.8" stroke-dasharray="12 4" d="M1554.1 572.3L1566.9 505.3M1570.2 486.6L1583.5 401.7M1586.6 382.9L1599.7 306.3M1604.1 287.8L1615 251.1M1623.4 234.4L1628.3 228M1640.8 213.7L1643.6 211M1657.6 198.2L1659.4 196.6M2306.9 268.8L2316.5 293.6M2321.5 311.9L2334.6 387.8M2337.2 406.6L2351.6 549M2353.5 567.9L2367.9 706.5M2373.1 724.4L2380.9 740M2389.6 756.9L2397.1 771.5"/>
<path d="M1543 581.6L1552.4 570.7L1561.8 581.6L1552.4 592.5Z" fill="#d27ff5"/><path d="M1559.3 496L1568.7 485.1L1578.1 496L1568.7 506.9Z" fill="#d27ff5"/><path d="M1575.6 392.3L1585 381.4L1594.4 392.3L1585 403.2Z" fill="#d27ff5"/><path d="M1591.9 296.9L1601.3 286L1610.8 296.9L1601.3 307.8Z" fill="#d27ff5"/><path d="M1608.3 242L1617.7 231.1L1627.1 242L1617.7 252.9Z" fill="#d27ff5"/><path d="M1624.6 220.4L1634 209.5L1643.4 220.4L1634 231.3Z" fill="#d27ff5"/><path d="M1640.9 204.4L1650.3 193.5L1659.7 204.4L1650.3 215.3Z" fill="#d27ff5"/><path d="M1657.3 190.5L1666.7 179.6L1676.1 190.5L1666.7 201.4Z" fill="#d27ff5"/><path d="M1673.6 178.6L1683 167.7L1692.4 178.6L1683 189.5Z" fill="#d27ff5"/><path d="M1689.9 176.2L1699.3 165.3L1708.7 176.2L1699.3 187.1Z" fill="#d27ff5"/><path d="M1706.3 173.1L1715.7 162.2L1725.1 173.1L1715.7 184Z" fill="#d27ff5"/><path d="M1722.6 172.4L1732 161.5L1741.4 172.4L1732 183.3Z" fill="#d27ff5"/><path d="M1738.9 172.4L1748.3 161.5L1757.7 172.4L1748.3 183.3Z" fill="#d27ff5"/><path d="M1755.2 172.4L1764.7 161.5L1774.1 172.4L1764.7 183.3Z" fill="#d27ff5"/><path d="M1771.6 173.1L1781 162.2L1790.4 173.1L1781 184Z" fill="#d27ff5"/><path d="M1787.9 173.8L1797.3 162.9L1806.7 173.8L1797.3 184.7Z" fill="#d27ff5"/><path d="M1804.2 167.5L1813.6 156.6L1823 167.5L1813.6 178.4Z" fill="#d27ff5"/><path d="M1820.6 165.4L1830 154.5L1839.4 165.4L1830 176.3Z" fill="#d27ff5"/><path d="M1836.9 161.9L1846.3 151L1855.7 161.9L1846.3 172.8Z" fill="#d27ff5"/><path d="M1853.2 159.7L1862.6 148.8L1872 159.7L1862.6 170.6Z" fill="#d27ff5"/><path d="M1869.6 159.5L1879 148.6L1888.4 159.5L1879 170.4Z" fill="#d27ff5"/><path d="M1885.9 161.9L1895.3 151L1904.7 161.9L1895.3 172.8Z" fill="#d27ff5"/><path d="M1902.2 164.3L1911.6 153.4L1921 164.3L1911.6 175.2Z" fill="#d27ff5"/><path d="M1918.5 164.3L1928 153.4L1937.4 164.3L1928 175.2Z" fill="#d27ff5"/><path d="M1934.9 165.9L1944.3 155L1953.7 165.9L1944.3 176.8Z" fill="#d27ff5"/><path d="M1951.2 167.5L1960.6 156.6L1970 167.5L1960.6 178.4Z" fill="#d27ff5"/><path d="M1967.5 168.2L1976.9 157.3L1986.3 168.2L1976.9 179.1Z" fill="#d27ff5"/><path d="M1983.9 170.6L1993.3 159.7L2002.7 170.6L1993.3 181.5Z" fill="#d27ff5"/><path d="M2000.2 170.6L2009.6 159.7L2019 170.6L2009.6 181.5Z" fill="#d27ff5"/><path d="M2016.5 169L2025.9 158.1L2035.3 169L2025.9 179.9Z" fill="#d27ff5"/><path d="M2032.9 170.6L2042.3 159.7L2051.7 170.6L2042.3 181.5Z" fill="#d27ff5"/><path d="M2049.2 176.1L2058.6 165.2L2068 176.1L2058.6 187Z" fill="#d27ff5"/><path d="M2065.5 179.3L2074.9 168.4L2084.3 179.3L2074.9 190.2Z" fill="#d27ff5"/><path d="M2081.8 183.3L2091.2 172.4L2100.7 183.3L2091.2 194.2Z" fill="#d27ff5"/><path d="M2098.2 186.4L2107.6 175.5L2117 186.4L2107.6 197.3Z" fill="#d27ff5"/><path d="M2114.5 195.9L2123.9 185L2133.3 195.9L2123.9 206.8Z" fill="#d27ff5"/><path d="M2130.8 203.4L2140.2 192.5L2149.6 203.4L2140.2 214.3Z" fill="#d27ff5"/><path d="M2147.2 209.7L2156.6 198.8L2166 209.7L2156.6 220.6Z" fill="#d27ff5"/><path d="M2163.5 206.2L2172.9 195.3L2182.3 206.2L2172.9 217.1Z" fill="#d27ff5"/><path d="M2179.8 201.6L2189.2 190.7L2198.6 201.6L2189.2 212.5Z" fill="#d27ff5"/><path d="M2196.2 199.1L2205.6 188.2L2215 199.1L2205.6 210Z" fill="#d27ff5"/><path d="M2212.5 210.1L2221.9 199.2L2231.3 210.1L2221.9 221Z" fill="#d27ff5"/><path d="M2228.8 220.4L2238.2 209.5L2247.6 220.4L2238.2 231.3Z" fill="#d27ff5"/><path d="M2245.2 228.3L2254.6 217.4L2264 228.3L2254.6 239.2Z" fill="#d27ff5"/><path d="M2261.5 240.9L2270.9 230L2280.3 240.9L2270.9 251.8Z" fill="#d27ff5"/><path d="M2277.8 250.4L2287.2 239.5L2296.6 250.4L2287.2 261.3Z" fill="#d27ff5"/><path d="M2294.1 259.9L2303.5 249L2312.9 259.9L2303.5 270.8Z" fill="#d27ff5"/><path d="M2310.5 302.5L2319.9 291.6L2329.3 302.5L2319.9 313.4Z" fill="#d27ff5"/><path d="M2326.8 397.2L2336.2 386.3L2345.6 397.2L2336.2 408.1Z" fill="#d27ff5"/><path d="M2343.1 558.4L2352.5 547.5L2361.9 558.4L2352.5 569.3Z" fill="#d27ff5"/><path d="M2359.5 715.9L2368.9 705L2378.3 715.9L2368.9 726.8Z" fill="#d27ff5"/><path d="M2375.8 748.5L2385.2 737.6L2394.6 748.5L2385.2 759.4Z" fill="#d27ff5"/><path d="M2392.1 780L2401.5 769.1L2410.9 780L2401.5 790.9Z" fill="#d27ff5"/><path d="M2408.4 789L2417.8 778.1L2427.2 789L2417.8 799.9Z" fill="#d27ff5"/>
<path fill="none" stroke="#f3c04a" stroke-width="2.8" stroke-dasharray="12 4" d="M1554.7 639.2L1566.4 592.9M1570.4 574.4L1583.3 502.6M1586.6 483.8L1599.8 404.5M1603.3 385.8L1615.7 327.1M1620.9 308.9L1630.7 282.2M1638.2 264.7L1646.2 248.4M1655.1 231.7L1661.9 220.2M1671.6 203.9L1678.1 193M1689.5 178L1692.8 174.4M2212.4 174.1L2215.1 176.7M2307.5 214.1L2315.9 232.3M2321.5 250.3L2334.6 324.5M2337.1 343.3L2351.6 496M2353.4 514.9L2368 682.1M2372.3 700.4L2381.8 725M2388.8 742.6L2397.9 765M2408.8 779.9L2410.6 781.4"/>
<path d="M1559.8 638V658.8L1541 648.4Z" fill="#f0a800"/><path d="M1576.1 573.3V594.1L1557.3 583.7Z" fill="#f0a800"/><path d="M1592.4 482.8V503.6L1573.6 493.2Z" fill="#f0a800"/><path d="M1608.8 384.7V405.5L1589.9 395.1Z" fill="#f0a800"/><path d="M1625.1 307.4V328.2L1606.3 317.8Z" fill="#f0a800"/><path d="M1641.4 262.9V283.7L1622.6 273.3Z" fill="#f0a800"/><path d="M1657.7 229.5V250.3L1638.9 239.9Z" fill="#f0a800"/><path d="M1674.1 201.6V222.4L1655.3 212Z" fill="#f0a800"/><path d="M1690.4 174.5V195.3L1671.6 184.9Z" fill="#f0a800"/><path d="M1706.7 157.1V177.9L1687.9 167.5Z" fill="#f0a800"/><path d="M1723.1 148.4V169.2L1704.3 158.8Z" fill="#f0a800"/><path d="M1739.4 146V166.8L1720.6 156.4Z" fill="#f0a800"/><path d="M1755.7 146V166.8L1736.9 156.4Z" fill="#f0a800"/><path d="M1772.1 144.6V165.4L1753.2 155Z" fill="#f0a800"/><path d="M1788.4 139.7V160.5L1769.6 150.1Z" fill="#f0a800"/><path d="M1804.7 132V152.8L1785.9 142.4Z" fill="#f0a800"/><path d="M1821 125.4V146.2L1802.2 135.8Z" fill="#f0a800"/><path d="M1837.4 119.2V140L1818.6 129.6Z" fill="#f0a800"/><path d="M1853.7 115.3V136.1L1834.9 125.7Z" fill="#f0a800"/><path d="M1870 111.9V132.7L1851.2 122.3Z" fill="#f0a800"/><path d="M1886.4 112V132.8L1867.6 122.4Z" fill="#f0a800"/><path d="M1902.7 113.6V134.4L1883.9 124Z" fill="#f0a800"/><path d="M1919 113.6V134.4L1900.2 124Z" fill="#f0a800"/><path d="M1935.4 114.4V135.2L1916.5 124.8Z" fill="#f0a800"/><path d="M1951.7 115.2V136L1932.9 125.6Z" fill="#f0a800"/><path d="M1968 115.2V136L1949.2 125.6Z" fill="#f0a800"/><path d="M1984.3 116.7V137.5L1965.5 127.1Z" fill="#f0a800"/><path d="M2000.7 117.5V138.3L1981.9 127.9Z" fill="#f0a800"/><path d="M2017 118.3V139.1L1998.2 128.7Z" fill="#f0a800"/><path d="M2033.3 118.3V139.1L2014.5 128.7Z" fill="#f0a800"/><path d="M2049.7 119.1V139.9L2030.9 129.5Z" fill="#f0a800"/><path d="M2066 124.6V145.4L2047.2 135Z" fill="#f0a800"/><path d="M2082.3 128.6V149.4L2063.5 139Z" fill="#f0a800"/><path d="M2098.7 134.1V154.9L2079.8 144.5Z" fill="#f0a800"/><path d="M2115 138.9V159.7L2096.2 149.3Z" fill="#f0a800"/><path d="M2131.3 142V162.8L2112.5 152.4Z" fill="#f0a800"/><path d="M2147.6 142.8V163.6L2128.8 153.2Z" fill="#f0a800"/><path d="M2164 143.6V164.4L2145.2 154Z" fill="#f0a800"/><path d="M2180.3 141.1V161.9L2161.5 151.5Z" fill="#f0a800"/><path d="M2196.6 148.4V169.2L2177.8 158.8Z" fill="#f0a800"/><path d="M2213 157.1V177.9L2194.2 167.5Z" fill="#f0a800"/><path d="M2229.3 172.9V193.7L2210.5 183.3Z" fill="#f0a800"/><path d="M2245.6 180.8V201.6L2226.8 191.2Z" fill="#f0a800"/><path d="M2262 185.5V206.3L2243.2 195.9Z" fill="#f0a800"/><path d="M2278.3 188.7V209.5L2259.5 199.1Z" fill="#f0a800"/><path d="M2294.6 191V211.8L2275.8 201.4Z" fill="#f0a800"/><path d="M2310.9 195V215.8L2292.1 205.4Z" fill="#f0a800"/><path d="M2327.3 230.5V251.3L2308.5 240.9Z" fill="#f0a800"/><path d="M2343.6 323.4V344.2L2324.8 333.8Z" fill="#f0a800"/><path d="M2359.9 495.1V515.9L2341.1 505.5Z" fill="#f0a800"/><path d="M2376.3 681.2V702L2357.5 691.6Z" fill="#f0a800"/><path d="M2392.6 723.4V744.2L2373.8 733.8Z" fill="#f0a800"/><path d="M2408.9 763.4V784.2L2390.1 773.8Z" fill="#f0a800"/><path d="M2425.2 777.1V797.9L2406.4 787.5Z" fill="#f0a800"/>
</g>
<rect x="1553.0" y="97.0" width="882.6999999999998" height="709.0" fill="none" stroke="#7c7c7c" stroke-width="3.8"/>
<path d="M1553.0 97.0V806.0" fill="none" stroke="#5c5c5c" stroke-width="3.8"/>
<path d="M1538.5 792.5H1553.0M1538.5 653.3H1553.0M1538.5 514.1H1553.0M1538.5 374.9H1553.0M1538.5 235.7H1553.0M1538.5 96.5H1553.0M1545.0 722.9H1553.0M1545.0 583.7H1553.0M1545.0 444.5H1553.0M1545.0 305.3H1553.0M1545.0 166.1H1553.0M1683 806.0V820.5M1846.3 806.0V820.5M2009.6 806.0V820.5M2172.9 806.0V820.5M2336.2 806.0V820.5M1601.3 806.0V814.0M1764.7 806.0V814.0M1928 806.0V814.0M2091.2 806.0V814.0M2254.6 806.0V814.0M2417.8 806.0V814.0" stroke="#707070" stroke-width="3.4" fill="none"/>
<text transform="translate(1528,803.7) scale(0.955,1)" font-size="42" fill="#0c0c0c" text-anchor="end" stroke="#0c0c0c" stroke-width="0.9">0.0</text>
<text transform="translate(1528,664.5) scale(0.955,1)" font-size="42" fill="#0c0c0c" text-anchor="end" stroke="#0c0c0c" stroke-width="0.9">0.2</text>
<text transform="translate(1528,525.3) scale(0.955,1)" font-size="42" fill="#0c0c0c" text-anchor="end" stroke="#0c0c0c" stroke-width="0.9">0.4</text>
<text transform="translate(1528,386.1) scale(0.955,1)" font-size="42" fill="#0c0c0c" text-anchor="end" stroke="#0c0c0c" stroke-width="0.9">0.6</text>
<text transform="translate(1528,246.9) scale(0.955,1)" font-size="42" fill="#0c0c0c" text-anchor="end" stroke="#0c0c0c" stroke-width="0.9">0.8</text>
<text transform="translate(1528,106.2) scale(0.955,1)" font-size="42" fill="#0c0c0c" text-anchor="end" stroke="#0c0c0c" stroke-width="0.9">1.0</text>
<text x="1683" y="861" font-size="42" fill="#0c0c0c" text-anchor="middle" stroke="#0c0c0c" stroke-width="0.9">400</text>
<text x="1846.3" y="861" font-size="42" fill="#0c0c0c" text-anchor="middle" stroke="#0c0c0c" stroke-width="0.9">500</text>
<text x="2009.6" y="861" font-size="42" fill="#0c0c0c" text-anchor="middle" stroke="#0c0c0c" stroke-width="0.9">600</text>
<text x="2172.9" y="861" font-size="42" fill="#0c0c0c" text-anchor="middle" stroke="#0c0c0c" stroke-width="0.9">700</text>
<text x="2336.2" y="861" font-size="42" fill="#0c0c0c" text-anchor="middle" stroke="#0c0c0c" stroke-width="0.9">800</text>
<text x="1993" y="933" font-size="48" fill="#0c0c0c" text-anchor="middle" stroke="#0c0c0c" stroke-width="0.9">Wavelength (nm)</text>
<text transform="translate(1454,451) rotate(-90)" font-size="47.5" fill="#0c0c0c" text-anchor="middle" stroke="#0c0c0c" stroke-width="0.9">EQE</text>
<text transform="translate(1328,81) scale(0.87,1)" font-size="72" fill="#0c0c0c" letter-spacing="8.5">(b)</text>
<path d="M1612 544H1648M1670 544H1704" stroke="#6fd8b4" stroke-width="2.8"/><path d="M1648.5 537.1H1669.5L1659 555Z" fill="#00b878"/>
<text x="1713" y="558" font-size="41" fill="#0c0c0c" stroke="#0c0c0c" stroke-width="0.9">n=5</text>
<text x="1870" y="560" font-size="36.5" fill="#0c0c0c" stroke="#0c0c0c" stroke-width="0.9">19.1 mA/cm<tspan font-size="23" dy="-16">2</tspan></text>
<path d="M1612 633H1648M1670 633H1704" stroke="#e3b4f8" stroke-width="2.8"/><path d="M1649.6 633L1659 622.1L1668.4 633L1659 643.9Z" fill="#d27ff5"/>
<text x="1713" y="647" font-size="41" fill="#0c0c0c" stroke="#0c0c0c" stroke-width="0.9">n=9</text>
<text x="1874" y="649" font-size="36.5" fill="#0c0c0c" stroke="#0c0c0c" stroke-width="0.9">23.7 mA/cm<tspan font-size="23" dy="-16">2</tspan></text>
<path d="M1612 723H1648M1670 723H1704" stroke="#f3c04a" stroke-width="2.8"/><path d="M1666.4 712.6V733.4L1647.6 723Z" fill="#f0a800"/>
<text x="1713" y="737" font-size="41" fill="#0c0c0c" stroke="#0c0c0c" stroke-width="0.9">n=100</text>
<text x="1871" y="733" font-size="36.5" fill="#0c0c0c" stroke="#0c0c0c" stroke-width="0.9">24.9 mA/cm<tspan font-size="23" dy="-16">2</tspan></text>
<text x="1806" y="425" font-size="53" fill="#000" font-weight="bold" stroke="#000" stroke-width="0.8">n=2</text>
<text x="1956" y="504" font-size="53" fill="#000" font-weight="bold" stroke="#000" stroke-width="0.8">n=3</text>
<path d="M1902.4 369.8L1918.7 355L1925.8 362.8L1941 326L1902.9 337.6L1910 345.4L1893.6 360.2Z" fill="#000"/>
<path d="M2029.2 434L2036.2 412.3L2046.2 415.5L2041 376L2013.8 405.1L2023.8 408.3L2016.8 430Z" fill="#000"/>
</g>
<g id="panel-c">
<polyline fill="none" stroke="#0078f0" stroke-width="11" stroke-linejoin="round" points="236.6,1336.8 237.6,1336.5 238.6,1337.9 239.6,1336.7 240.6,1338 241.6,1337.7 242.6,1337.1 243.6,1338.4 244.6,1337.4 245.6,1338.5 246.6,1337.8 247.6,1338 248.6,1339 249.6,1340.1 250.6,1338.6 251.6,1338.9 252.6,1340.1 253.6,1341 254.6,1340.2 255.6,1340 256.6,1341.5 257.6,1339.4 258.6,1341.5 259.6,1340.3 260.6,1340.1 261.6,1340.1 262.6,1340.7 263.6,1342.1 264.7,1340.7 265.7,1341.8 266.7,1342.1 267.7,1341.6 268.7,1342.1 269.7,1341.1 270.7,1341.2 271.7,1341.7 272.7,1343 273.7,1342.5 274.7,1342.4 275.7,1343.1 276.7,1342.9 277.7,1342.7 278.7,1344 279.7,1343.9 280.7,1342.9 281.7,1343.8 282.7,1343.8 283.7,1344.8 284.7,1344.6 285.7,1343.6 286.7,1345.4 287.7,1343.5 288.7,1344.3 289.7,1345.2 290.7,1343.9 291.7,1344.8 292.7,1343.8 293.7,1345.5 294.7,1345.8 295.7,1345.4 296.7,1346.3 297.7,1345 298.7,1346.1 299.7,1345.9 300.7,1346 301.7,1345.8 302.7,1346.8 303.7,1347.2 304.7,1346.1 305.7,1346.7 306.7,1345.4 307.7,1347 308.7,1347 309.7,1347.9 310.7,1347.6 311.7,1346.4 312.7,1346.7 313.7,1347.5 314.7,1346 315.7,1347.2 316.7,1346.6 317.7,1346.5 318.8,1346.5 319.8,1348.3 320.8,1346.8 321.8,1347.2 322.8,1347.7 323.8,1348.9 324.8,1347.1 325.8,1348.1 326.8,1348.4 327.8,1349.3 328.8,1349.2 329.8,1349.4 330.8,1348.1 331.8,1348.5 332.8,1348.4 333.8,1349.8 334.8,1350 335.8,1348.2 336.8,1348.3 337.8,1348.5 338.8,1348.6 339.8,1349.3 340.8,1349.6 341.8,1348.9 342.8,1348.4 343.8,1349.4 344.8,1349.4 345.8,1349.9 346.8,1350.9 347.8,1350.4 348.8,1350 349.8,1350.4 350.8,1350.6 351.8,1349.1 352.8,1351.2 353.8,1351 354.8,1351.3 355.8,1351.2 356.8,1350.3 357.8,1350.4 358.8,1349.7 359.8,1351.1 360.8,1349.8 361.8,1349.9 362.8,1350.3 363.8,1350.2 364.8,1350.7 365.8,1350.1 366.8,1350 367.8,1350.4 368.8,1350.4 369.8,1351.1 370.8,1350.3 371.8,1352.4 372.8,1351.9 373.9,1350.8 374.9,1351.1 375.9,1351.4 376.9,1351.5 377.9,1351 378.9,1352.8 379.9,1353.2 380.9,1352 381.9,1352.1 382.9,1351.2 383.9,1351.3 384.9,1351.9 385.9,1351.8 386.9,1353.2 387.9,1351.6 388.9,1351.4 389.9,1353.6 390.9,1352.7 391.9,1351.8 392.9,1352.8 393.9,1351.6 394.9,1352.9 395.9,1354 396.9,1353.8 397.9,1353.4 398.9,1352.4 399.9,1352.7 400.9,1352.3 401.9,1353.8 402.9,1353.3 403.9,1353.9 404.9,1352.9 405.9,1352.7 406.9,1354.2 407.9,1354.6 408.9,1354.3 409.9,1354.3 410.9,1354.4 411.9,1354.2 412.9,1353 413.9,1353.8 414.9,1353.4 415.9,1352.7 416.9,1352.7 417.9,1353.4 418.9,1353.4 419.9,1354.4 420.9,1355.1 421.9,1353.9 422.9,1355.2 423.9,1355.3 424.9,1355.3 425.9,1353.9 426.9,1353.6 427.9,1353.7 429,1353.6 430,1353.7 431,1354.7 432,1355.4 433,1355.3 434,1354.5 435,1354.9 436,1355.3 437,1353.7 438,1355.1 439,1355.7 440,1355.4 441,1355.4 442,1354.8 443,1354.1 444,1355.6 445,1354.5 446,1355.7 447,1356.1 448,1354.8 449,1354.8 450,1356.2 451,1355.7 452,1354.4 453,1354.3 454,1354.4 455,1356.3 456,1356.1 457,1354.5 458,1356.2 459,1356.6 460,1355.8 461,1355.1 462,1355.6 463,1354.7 464,1354.4 465,1356.7 466,1356 467,1355.7 468,1356.7 469,1355.6 470,1356.6 471,1356.6 472,1355.1 473,1355.2 474,1355.4 475,1355.3 476,1356.1 477,1355.4 478,1355.8 479,1355.1 480,1357 481,1355.7 482,1356 483.1,1356.3 484.1,1357.1 485.1,1356 486.1,1357.2 487.1,1356.2 488.1,1356.3 489.1,1356.3 490.1,1355.1 491.1,1356.2 492.1,1355.6 493.1,1355.2 494.1,1357.1 495.1,1355.6 496.1,1356.4 497.1,1357 498.1,1356.6 499.1,1356.1 500.1,1356.6 501.1,1356.7 502.1,1357.3 503.1,1355.6 504.1,1356.8 505.1,1356 506.1,1356.1 507.1,1357.3 508.1,1356.7 509.1,1356.9 510.1,1357.4 511.1,1357.8 512.1,1356.7 513.1,1357.1 514.1,1356.8 515.1,1356.9 516.1,1357.3 517.1,1356.8 518.1,1357 519.1,1356.9 520.1,1358 521.1,1357.5 522.1,1357.9 523.1,1358.1 524.1,1356.5 525.1,1357.2 526.1,1358.1 527.1,1357.9 528.1,1356.2 529.1,1356.2 530.1,1357 531.1,1356.1 532.1,1356.6 533.1,1356.2 534.1,1357.6 535.1,1357.9 536.1,1358.2 537.1,1356.4 538.2,1357.8 539.2,1357.7 540.2,1356.5 541.2,1358.3 542.2,1358.5 543.2,1356.7 544.2,1358.5 545.2,1357.2 546.2,1357.4 547.2,1358.6 548.2,1358.3 549.2,1356.7 550.2,1357.3 551.2,1357.5 552.2,1357.1 553.2,1356.8 554.2,1357.1 555.2,1358.1 556.2,1356.4 557.2,1357.7 558.2,1357.5 559.2,1356.5 560.2,1357.2 561.2,1357.9 562.2,1357.7 563.2,1356.6 564.2,1358.9 565.2,1358.4 566.2,1358.9 567.2,1356.8 568.2,1357.2 569.2,1356.7 570.2,1358.4 571.2,1357.2 572.2,1356.9 573.2,1357.6 574.2,1358.8 575.2,1358.6 576.2,1357.3 577.2,1357 578.2,1358.9 579.2,1358.1 580.2,1358.4 581.2,1356.9 582.2,1356.9 583.2,1358.4 584.2,1357.8 585.2,1356.9 586.2,1359 587.2,1358.3 588.2,1358.7 589.2,1357 590.2,1358.9 591.2,1357 592.2,1358.9 593.3,1358 594.3,1357.7 595.3,1358.2 596.3,1359.1 597.3,1357.6 598.3,1357.2 599.3,1358.2 600.3,1357.5 601.3,1357.2 602.3,1357.4 603.3,1357.1 604.3,1357.5 605.3,1357.7 606.3,1357.7 607.3,1358.8 608.3,1357.7 609.3,1358.2 610.3,1357.5 611.3,1357.9 612.3,1357.1 613.3,1357.7 614.3,1357.1 615.3,1358.9 616.3,1358.4 617.3,1357.6 618.3,1358.3 619.3,1359.4 620.3,1357.4 621.3,1359.1 622.3,1358.2 623.3,1358.4 624.3,1359.2 625.3,1358.1 626.3,1358.4 627.3,1358.9 628.3,1359.6 629.3,1358 630.3,1359.2 631.3,1358.9 632.3,1358.8 633.3,1358.2 634.3,1358.1 635.3,1357.4 636.3,1357.6 637.3,1357.5 638.3,1359.1 639.3,1357.9 640.3,1357.7 641.3,1357.5 642.3,1359.4 643.3,1359.4 644.3,1359 645.3,1358 646.3,1357.9 647.4,1358.1 648.4,1358.5 649.4,1357.8 650.4,1358.5 651.4,1358 652.4,1359.7 653.4,1359.8 654.4,1358.7 655.4,1358 656.4,1359.8 657.4,1358.2 658.4,1358.3 659.4,1357.5 660.4,1358.4 661.4,1358.6 662.4,1358.7 663.4,1358 664.4,1358.7 665.4,1357.5 666.4,1358.1 667.4,1357.7 668.4,1358.5 669.4,1357.6 670.4,1357.6 671.4,1358.3 672.4,1358.1 673.4,1359 674.4,1358.8 675.4,1359.4 676.4,1359.2 677.4,1359.3 678.4,1359.7 679.4,1358.5 680.4,1358.4 681.4,1360 682.4,1358 683.4,1359.4 684.4,1359.2 685.4,1357.7 686.4,1359.6 687.4,1359.8 688.4,1359.2 689.4,1359.4 690.4,1359.6 691.4,1358 692.4,1358.9 693.4,1358.9 694.4,1359.7 695.4,1359.6 696.4,1359.7 697.4,1359.1 698.4,1359.9 699.4,1359.4 700.4,1359.4 701.4,1358.3 702.5,1357.8 703.5,1358.1 704.5,1358.6 705.5,1358 706.5,1359.8 707.5,1359.1 708.5,1359.3 709.5,1359.3 710.5,1359.4 711.5,1359 712.5,1357.8 713.5,1359.7 714.5,1359.6 715.5,1359 716.5,1359.1 717.5,1359.4 718.5,1358 719.5,1359.6 720.5,1358.5 721.5,1358.1 722.5,1358.5 723.5,1359.6 724.5,1358.4 725.5,1359.7 726.5,1360.3 727.5,1359.1 728.5,1358.8 729.5,1359.1 730.5,1359.6 731.5,1359.8 732.5,1359.4 733.5,1359.5 734.5,1358.2 735.5,1358.3 736.5,1358.6 737.5,1359.8 738.5,1358.7 739.5,1359.4 740.5,1358 741.5,1358.2 742.5,1358.7 743.5,1359.7 744.5,1359.7 745.5,1359.7 746.5,1358.8 747.5,1359.3 748.5,1359.2 749.5,1359.2 750.5,1358.4 751.5,1360.3 752.5,1358.6 753.5,1360.5 754.5,1360.4 755.5,1358.2 756.5,1359.3 757.6,1360.1 758.6,1360.5 759.6,1359.3 760.6,1358.8 761.6,1358.7 762.6,1360.5 763.6,1358.7 764.6,1359.6 765.6,1358.6 766.6,1359.5 767.6,1360.6 768.6,1358.6 769.6,1360.3 770.6,1359.5 771.6,1360.5 772.6,1360 773.6,1358.9 774.6,1360.5 775.6,1359.5 776.6,1358.4 777.6,1358.4 778.6,1359.6 779.6,1359.5 780.6,1359.2 781.6,1358.8 782.6,1359.3 783.6,1359.2 784.6,1360.5 785.6,1358.5 786.6,1360.3 787.6,1360.5 788.6,1358.8 789.6,1360.8 790.6,1360.3 791.6,1360.7 792.6,1359.3 793.6,1359.5 794.6,1359.6 795.6,1361 796.6,1360 797.6,1359.5 798.6,1359.7 799.6,1359.3 800.6,1358.8 801.6,1358.9 802.6,1360.7 803.6,1359.4 804.6,1361 805.6,1359.4 806.6,1359.4 807.6,1360 808.6,1359.2 809.6,1359.7 810.6,1361.1 811.7,1361 812.7,1360.8 813.7,1360.4 814.7,1361.1 815.7,1361.1 816.7,1360.2 817.7,1360.6 818.7,1359 819.7,1360.7 820.7,1360 821.7,1360.8 822.7,1360.5 823.7,1359.7 824.7,1359.1 825.7,1361.2 826.7,1359.3 827.7,1360.2 828.7,1359.9 829.7,1359.8 830.7,1360.8 831.7,1361.4 832.7,1359.7 833.7,1360.7 834.7,1359.8 835.7,1360.5 836.7,1360.1 837.7,1359.5 838.7,1359.5 839.7,1359.7 840.7,1361.3 841.7,1360.4 842.7,1359.7 843.7,1361.4 844.7,1361.6 845.7,1360.3 846.7,1359.6 847.7,1359.7 848.7,1359.5 849.7,1360.1 850.7,1359.5 851.7,1359.8 852.7,1359.9 853.7,1360.6 854.7,1361.4 855.7,1361.1 856.7,1360.3 857.7,1360.3 858.7,1360.5 859.7,1360.2 860.7,1360.1 861.7,1359.5 862.7,1360 863.7,1361.6 864.7,1359.6 865.7,1360.5 866.8,1360.8 867.8,1361.4 868.8,1359.8 869.8,1360 870.8,1359.9 871.8,1360.3 872.8,1360.4 873.8,1361.6 874.8,1361.4 875.8,1361.4 876.8,1359.4 877.8,1359.4 878.8,1361 879.8,1361.5 880.8,1360.4 881.8,1360.7 882.8,1359.3 883.8,1360.2 884.8,1361.5 885.8,1361.3 886.8,1361.3 887.8,1361.6 888.8,1359.9 889.8,1359.5 890.8,1359.6 891.8,1360.5 892.8,1360.9 893.8,1361.5 894.8,1361 895.8,1360.8 896.8,1361.1 897.8,1360.3 898.8,1360.6 899.8,1359.3 900.8,1361.1 901.8,1359.8 902.8,1361.4 903.8,1360.7 904.8,1359.9 905.8,1359.5 906.8,1359.8 907.8,1360.7 908.8,1360.8 909.8,1359.4 910.8,1359.3 911.8,1360.4 912.8,1360.5 913.8,1360 914.8,1359.6 915.8,1360.5 916.8,1359.1 917.8,1359.8 918.8,1360.2 919.8,1361.4 920.8,1360.6 921.9,1361.2 922.9,1360.2 923.9,1359.6 924.9,1359.6 925.9,1361.3 926.9,1360.7 927.9,1359.7 928.9,1359 929.9,1360.1 930.9,1360.6 931.9,1359.9 932.9,1359.5 933.9,1360.5 934.9,1361.1 935.9,1359.4 936.9,1359 937.9,1359.7 938.9,1359.9 939.9,1360.5 940.9,1359.3 941.9,1360.7 942.9,1360.6 943.9,1360 944.9,1359.3 945.9,1361.1 946.9,1359.5 947.9,1360.7 948.9,1359.3 949.9,1359.3 950.9,1360.6 951.9,1359.4 952.9,1361 953.9,1359.9 954.9,1359.2 955.9,1359.2 956.9,1359.7 957.9,1360.3 958.9,1361 959.9,1359 960.9,1359.6 961.9,1359.2 962.9,1361 963.9,1359 964.9,1358.7 965.9,1358.8 966.9,1359.6 967.9,1360.8 968.9,1360.7 969.9,1360.3 970.9,1361 971.9,1360.8 972.9,1359.4 973.9,1359 974.9,1360.8 976,1360.3 977,1358.6 978,1360.1 979,1359.4 980,1359.4 981,1359.3 982,1358.9 983,1358.5 984,1359.2 985,1359.3 986,1360.8 987,1358.8 988,1360.8 989,1359 990,1359.3 991,1360.4 992,1360.4 993,1359.5 994,1358.6 995,1359.6 996,1359.3 997,1360.6 998,1358.9 999,1359.3 1000,1360.6 1001,1358.5 1002,1359.4 1003,1360.4 1004,1360.3 1005,1358.5 1006,1358.5 1007,1358.6 1008,1360.6 1009,1359 1010,1360.2 1011,1360.5 1012,1359.2 1013,1359 1014,1360.7 1015,1359.9 1016,1359 1017,1360.1 1018,1359.1 1019,1359 1020,1358.4 1021,1360.2 1022,1360.6 1023,1359.9 1024,1360.6 1025,1358.4 1026,1358.9 1027,1359.5 1028,1360.7 1029,1360.6 1030,1359.3 1031.1,1359 1032.1,1359.4 1033.1,1359.5 1034.1,1360.6 1035.1,1358.8 1036.1,1360.3 1037.1,1360.1 1038.1,1360.3 1039.1,1360.2 1040.1,1359.8 1041.1,1359.1 1042.1,1359.1 1043.1,1359.2 1044.1,1360.2 1045.1,1358.5 1046.1,1358.8 1047.1,1360.2 1048.1,1358.9 1049.1,1358.5 1050.1,1358.4 1051.1,1359.7 1052.1,1359.1 1053.1,1360.7 1054.1,1360.5 1055.1,1360.7 1056.1,1359 1057.1,1358.5 1058.1,1358.6 1059.1,1359.5 1060.1,1360 1061.1,1359.4 1062.1,1358.9 1063.1,1359.3 1064.1,1359.8 1065.1,1360 1066.1,1360.1 1067.1,1360.4 1068.1,1359.9 1069.1,1358.6 1070.1,1360.4 1071.1,1359 1072.1,1359.7 1073.1,1359.2 1074.1,1360.1 1075.1,1358.8 1076.1,1358.9 1077.1,1358.9 1078.1,1358.7 1079.1,1360.5 1080.1,1359.7 1081.1,1359.1 1082.1,1359.3 1083.1,1360.7 1084.1,1359.6 1085.1,1358.9 1086.2,1360.3 1087.2,1359.9 1088.2,1360.7 1089.2,1358.6 1090.2,1359.5 1091.2,1360.3 1092.2,1360.4 1093.2,1360.5 1094.2,1358.4 1095.2,1359 1096.2,1358.6 1097.2,1358.8 1098.2,1360.7 1099.2,1359.7 1100.2,1360.6 1101.2,1359.2 1102.2,1360.4 1103.2,1359.4 1104.2,1359 1105.2,1360.2 1106.2,1360.6 1107.2,1358.6 1108.2,1359.8 1109.2,1359.8 1110.2,1358.9 1111.2,1359.2 1112.2,1358.7 1113.2,1358.8 1114.2,1359 1115.2,1359.8 1116.2,1359.9 1117.2,1358.8 1118.2,1358.4"/>
<polyline fill="none" stroke="#ff4242" stroke-width="9.5" stroke-linejoin="round" points="236.6,1396.3 237.6,1397.1 238.6,1396 239.6,1396.3 240.6,1396.1 241.6,1397.5 242.6,1397 243.6,1395.8 244.6,1395.9 245.6,1396.7 246.6,1397.1 247.6,1397.3 248.6,1396 249.6,1396.2 250.6,1397.5 251.6,1396.9 252.6,1396.6 253.6,1396.7 254.6,1398.2 255.6,1396.7 256.6,1397.4 257.6,1396.9 258.6,1397 259.6,1398.1 260.6,1398.5 261.6,1397 262.6,1396.6 263.6,1397.9 264.7,1396.7 265.7,1396.2 266.7,1398.4 267.7,1397.3 268.7,1398.2 269.7,1397.3 270.7,1398.4 271.7,1397.4 272.7,1396.8 273.7,1396.4 274.7,1397.7 275.7,1398 276.7,1398.6 277.7,1396.7 278.7,1398 279.7,1397.4 280.7,1397.7 281.7,1396.9 282.7,1397.3 283.7,1397.9 284.7,1398.8 285.7,1396.9 286.7,1397.8 287.7,1398.6 288.7,1399 289.7,1397.2 290.7,1397 291.7,1399 292.7,1399.1 293.7,1398 294.7,1397 295.7,1399.1 296.7,1397.8 297.7,1399.1 298.7,1398.4 299.7,1398.9 300.7,1397.3 301.7,1398.8 302.7,1397.5 303.7,1398 304.7,1399 305.7,1399 306.7,1397.5 307.7,1397.6 308.7,1398 309.7,1398.4 310.7,1398 311.7,1397.4 312.7,1397.8 313.7,1398.9 314.7,1399.4 315.7,1397.3 316.7,1398.6 317.7,1399.1 318.8,1397.4 319.8,1399.3 320.8,1397.6 321.8,1398.8 322.8,1398.7 323.8,1398.9 324.8,1398.1 325.8,1398.4 326.8,1398.8 327.8,1398.4 328.8,1399 329.8,1398.5 330.8,1398.5 331.8,1397.5 332.8,1399 333.8,1398.7 334.8,1398.1 335.8,1399.4 336.8,1399.4 337.8,1398.7 338.8,1398 339.8,1398.7 340.8,1397.9 341.8,1397.9 342.8,1398.7 343.8,1397.9 344.8,1398.7 345.8,1398.9 346.8,1397.8 347.8,1399.3 348.8,1397.9 349.8,1399.5 350.8,1399.6 351.8,1399 352.8,1397.9 353.8,1399 354.8,1398.7 355.8,1400.1 356.8,1398.2 357.8,1399.9 358.8,1400.3 359.8,1399.7 360.8,1399.9 361.8,1398.4 362.8,1400.3 363.8,1399.1 364.8,1400.3 365.8,1400.2 366.8,1398.4 367.8,1399.9 368.8,1400.2 369.8,1398.2 370.8,1398.9 371.8,1399.9 372.8,1398.4 373.9,1400.2 374.9,1398.8 375.9,1400.1 376.9,1398.5 377.9,1399.3 378.9,1400.3 379.9,1398.7 380.9,1398.8 381.9,1399.4 382.9,1399 383.9,1398.3 384.9,1398.6 385.9,1398.6 386.9,1400.5 387.9,1399.9 388.9,1400.4 389.9,1398.7 390.9,1400.2 391.9,1398.6 392.9,1399.6 393.9,1399.8 394.9,1399.2 395.9,1400.4 396.9,1399.7 397.9,1399.8 398.9,1400.5 399.9,1398.6 400.9,1400.8 401.9,1399.9 402.9,1399.4 403.9,1400.3 404.9,1399.1 405.9,1400.8 406.9,1399.8 407.9,1399.3 408.9,1400.3 409.9,1399.5 410.9,1398.9 411.9,1400.3 412.9,1398.6 413.9,1400.5 414.9,1399.1 415.9,1400.1 416.9,1400.9 417.9,1400 418.9,1400.2 419.9,1399.3 420.9,1398.6 421.9,1398.7 422.9,1399 423.9,1400.1 424.9,1399.7 425.9,1399.9 426.9,1400.8 427.9,1399 429,1399.2 430,1400.2 431,1398.7 432,1398.7 433,1399.6 434,1399 435,1399.6 436,1399.3 437,1400.1 438,1400.2 439,1399.3 440,1400.3 441,1399.9 442,1399.1 443,1401 444,1399.4 445,1399.2 446,1399 447,1400.4 448,1400.9 449,1400.7 450,1399.8 451,1399.5 452,1398.9 453,1400.4 454,1400.2 455,1399.7 456,1400.5 457,1400 458,1401.2 459,1400.7 460,1399.5 461,1401.1 462,1399.1 463,1400.2 464,1399.9 465,1399.5 466,1399.1 467,1400.9 468,1399 469,1400.3 470,1401.3 471,1399.4 472,1399.5 473,1400.5 474,1400.3 475,1400.6 476,1401 477,1399.5 478,1399.8 479,1399.8 480,1399.2 481,1401.2 482,1401 483.1,1400.8 484.1,1399.1 485.1,1401.1 486.1,1400.9 487.1,1400.2 488.1,1400.9 489.1,1400.2 490.1,1399.7 491.1,1399.4 492.1,1399.7 493.1,1399.3 494.1,1400 495.1,1401 496.1,1400.9 497.1,1401.2 498.1,1400.9 499.1,1399.8 500.1,1400.5 501.1,1400.3 502.1,1401.1 503.1,1400.5 504.1,1399.9 505.1,1400.8 506.1,1401.6 507.1,1399.8 508.1,1401.4 509.1,1399.3 510.1,1399.9 511.1,1399.8 512.1,1401.1 513.1,1401.6 514.1,1401.1 515.1,1400.1 516.1,1401.4 517.1,1400.1 518.1,1399.9 519.1,1401.5 520.1,1400.8 521.1,1401 522.1,1400.9 523.1,1401.7 524.1,1400.5 525.1,1401.4 526.1,1401 527.1,1401.4 528.1,1400.4 529.1,1401.1 530.1,1400.7 531.1,1400.1 532.1,1399.9 533.1,1400.9 534.1,1399.6 535.1,1401.6 536.1,1399.8 537.1,1399.5 538.2,1399.7 539.2,1401.7 540.2,1400.3 541.2,1399.8 542.2,1399.5 543.2,1399.5 544.2,1401.1 545.2,1401 546.2,1401.1 547.2,1401.2 548.2,1399.6 549.2,1400.9 550.2,1400.3 551.2,1401.4 552.2,1401.5 553.2,1401.6 554.2,1399.7 555.2,1401.6 556.2,1401.7 557.2,1401.8 558.2,1399.8 559.2,1400 560.2,1399.8 561.2,1399.6 562.2,1401.6 563.2,1401.5 564.2,1401.1 565.2,1401.5 566.2,1401.1 567.2,1400.2 568.2,1399.8 569.2,1399.8 570.2,1401.4 571.2,1400.1 572.2,1400.3 573.2,1400.6 574.2,1399.6 575.2,1400.2 576.2,1400.3 577.2,1401.3 578.2,1400.5 579.2,1400.4 580.2,1401.9 581.2,1400.8 582.2,1401.7 583.2,1401.1 584.2,1399.7 585.2,1400.6 586.2,1400.7 587.2,1401.5 588.2,1400.5 589.2,1401.3 590.2,1400.9 591.2,1400.2 592.2,1401.7 593.3,1399.9 594.3,1401.6 595.3,1400.1 596.3,1399.7 597.3,1400.2 598.3,1401.5 599.3,1402 600.3,1399.7 601.3,1400.9 602.3,1400.9 603.3,1401.6 604.3,1400.1 605.3,1400.9 606.3,1400.5 607.3,1401.7 608.3,1400.3 609.3,1402 610.3,1400.4 611.3,1400.2 612.3,1401.4 613.3,1400.9 614.3,1400 615.3,1401.3 616.3,1399.9 617.3,1401.6 618.3,1401.4 619.3,1401.6 620.3,1401.2 621.3,1400.6 622.3,1400.7 623.3,1400.7 624.3,1401.9 625.3,1400 626.3,1401.9 627.3,1399.8 628.3,1400.3 629.3,1400.4 630.3,1401.9 631.3,1401 632.3,1400.7 633.3,1401.9 634.3,1400.3 635.3,1400.9 636.3,1401.1 637.3,1401.6 638.3,1401.6 639.3,1401.3 640.3,1400.6 641.3,1400.6 642.3,1400.2 643.3,1401.8 644.3,1401.4 645.3,1401.6 646.3,1400.2 647.4,1400.9 648.4,1401.7 649.4,1401.2 650.4,1400.1 651.4,1400.9 652.4,1402 653.4,1400.4 654.4,1400.3 655.4,1400.6 656.4,1401.5 657.4,1401.9 658.4,1400.2 659.4,1400.2 660.4,1400.4 661.4,1400.6 662.4,1401.1 663.4,1400.2 664.4,1400.6 665.4,1400.3 666.4,1402.2 667.4,1401.6 668.4,1400.1 669.4,1402.2 670.4,1400.1 671.4,1400.8 672.4,1402.2 673.4,1401.8 674.4,1401.6 675.4,1400.9 676.4,1400.4 677.4,1401.4 678.4,1400.2 679.4,1400.4 680.4,1400.8 681.4,1400 682.4,1400.9 683.4,1401.8 684.4,1401.6 685.4,1401.1 686.4,1401.4 687.4,1401 688.4,1400.3 689.4,1401.4 690.4,1400.9 691.4,1401.7 692.4,1402.1 693.4,1401 694.4,1401.3 695.4,1401.7 696.4,1400.9 697.4,1400.5 698.4,1401.7 699.4,1402.1 700.4,1401.8 701.4,1401.6 702.5,1402 703.5,1401.6 704.5,1401.5 705.5,1401 706.5,1400.7 707.5,1401.5 708.5,1400.2 709.5,1401 710.5,1401.8 711.5,1401.7 712.5,1401.5 713.5,1400.6 714.5,1401 715.5,1401.1 716.5,1401.5 717.5,1401 718.5,1401.6 719.5,1402.2 720.5,1400.4 721.5,1401.6 722.5,1401.8 723.5,1400.9 724.5,1401.2 725.5,1402.3 726.5,1400.1 727.5,1401.3 728.5,1400.4 729.5,1401.9 730.5,1402.3 731.5,1401.2 732.5,1400.2 733.5,1401.4 734.5,1401.3 735.5,1401.7 736.5,1401.2 737.5,1401.5 738.5,1402 739.5,1401.3 740.5,1401 741.5,1402.3 742.5,1400.5 743.5,1401.7 744.5,1401 745.5,1401.8 746.5,1400.3 747.5,1402.4 748.5,1400.9 749.5,1400.2 750.5,1400.7 751.5,1401 752.5,1400.1 753.5,1401 754.5,1401 755.5,1401.7 756.5,1400.9 757.6,1400.7 758.6,1400.6 759.6,1401.8 760.6,1402.3 761.6,1401.3 762.6,1400.6 763.6,1402 764.6,1401 765.6,1400.6 766.6,1400.4 767.6,1401.9 768.6,1402 769.6,1401.6 770.6,1401.2 771.6,1401.4 772.6,1400.6 773.6,1402.4 774.6,1400.9 775.6,1401.6 776.6,1402 777.6,1402 778.6,1401.2 779.6,1400.8 780.6,1401.4 781.6,1400.4 782.6,1402.1 783.6,1400.9 784.6,1402.1 785.6,1400.7 786.6,1401 787.6,1400.7 788.6,1401.1 789.6,1400.5 790.6,1400.1 791.6,1401.8 792.6,1400.8 793.6,1400.7 794.6,1400.8 795.6,1401.2 796.6,1401.1 797.6,1401.6 798.6,1401.7 799.6,1401 800.6,1402.3 801.6,1402.1 802.6,1400.2 803.6,1402.1 804.6,1402.3 805.6,1402 806.6,1400.4 807.6,1402.1 808.6,1401.6 809.6,1400.1 810.6,1400.1 811.7,1402.4 812.7,1401.7 813.7,1400.7 814.7,1400.4 815.7,1400.5 816.7,1400.7 817.7,1402 818.7,1400.9 819.7,1400.5 820.7,1402.3 821.7,1402 822.7,1400.5 823.7,1402.3 824.7,1401.6 825.7,1402 826.7,1401.7 827.7,1402.3 828.7,1402 829.7,1402.1 830.7,1400.6 831.7,1401.8 832.7,1401.4 833.7,1401.9 834.7,1401.2 835.7,1402.2 836.7,1401.5 837.7,1400.8 838.7,1400.7 839.7,1400.5 840.7,1401.3 841.7,1400.3 842.7,1401.3 843.7,1400.5 844.7,1401.3 845.7,1401.3 846.7,1401.4 847.7,1402.2 848.7,1400.2 849.7,1402.2 850.7,1401.3 851.7,1401.5 852.7,1401.7 853.7,1402.2 854.7,1401 855.7,1401.1 856.7,1402.5 857.7,1400.3 858.7,1401.7 859.7,1401.7 860.7,1400.2 861.7,1401.6 862.7,1401.8 863.7,1402.4 864.7,1400.9 865.7,1402.5 866.8,1401.4 867.8,1401.3 868.8,1402.3 869.8,1400.2 870.8,1401.9 871.8,1401.7 872.8,1401 873.8,1402.2 874.8,1401 875.8,1401.3 876.8,1401.4 877.8,1402 878.8,1400.7 879.8,1401.2 880.8,1401.2 881.8,1401.5 882.8,1402.1 883.8,1400.9 884.8,1402.2 885.8,1401.1 886.8,1401.4 887.8,1400.8 888.8,1401.4 889.8,1402.5 890.8,1401.7 891.8,1402.1 892.8,1401 893.8,1400.9 894.8,1400.9 895.8,1401.6 896.8,1401.7 897.8,1402.1 898.8,1400.3 899.8,1401.9 900.8,1402.3 901.8,1401.5 902.8,1400.3 903.8,1400.9 904.8,1400.2 905.8,1400.6 906.8,1402.4 907.8,1401.6 908.8,1401.8 909.8,1402.1 910.8,1402.4 911.8,1401.7 912.8,1401.7 913.8,1401.7 914.8,1401.9 915.8,1401.6 916.8,1401.8 917.8,1400.7 918.8,1401.8 919.8,1401.3 920.8,1402 921.9,1400.4 922.9,1400.6 923.9,1400.3 924.9,1402 925.9,1402.4 926.9,1401.8 927.9,1401.1 928.9,1402.2 929.9,1402.1 930.9,1401.5 931.9,1400.8 932.9,1400.9 933.9,1401.2 934.9,1401 935.9,1401.2 936.9,1401.7 937.9,1402.4 938.9,1400.3 939.9,1401.6 940.9,1400.3 941.9,1400.5 942.9,1402.1 943.9,1401.6 944.9,1402.4 945.9,1401.3 946.9,1400.2 947.9,1401.1 948.9,1401.6 949.9,1402.5 950.9,1402.6 951.9,1401.3 952.9,1401.2 953.9,1400.5 954.9,1401.8 955.9,1400.7 956.9,1400.6 957.9,1400.2 958.9,1400.2 959.9,1401.8 960.9,1400.5 961.9,1402.5 962.9,1400.4 963.9,1402.3 964.9,1400.5 965.9,1400.3 966.9,1401.9 967.9,1400.8 968.9,1402 969.9,1400.7 970.9,1400.3 971.9,1402.1 972.9,1401.9 973.9,1402.3 974.9,1402 976,1400.4 977,1401.7 978,1401.9 979,1401.3 980,1402.5 981,1400.8 982,1402.5 983,1401.9 984,1400.2 985,1400.3 986,1401.8 987,1402.2 988,1400.4 989,1401 990,1402 991,1400.6 992,1402.3 993,1401.4 994,1400.4 995,1401.1 996,1401.6 997,1401.3 998,1401.8 999,1400.6 1000,1402.1 1001,1401.1 1002,1401.8 1003,1401.7 1004,1401.2 1005,1401.2 1006,1402.1 1007,1402.5 1008,1402.1 1009,1401.6 1010,1400.9 1011,1400.4 1012,1402.6 1013,1401.9 1014,1402.2 1015,1401 1016,1401.7 1017,1402.6 1018,1402.2 1019,1401.7 1020,1401 1021,1401.3 1022,1402.4 1023,1401.1 1024,1401.9 1025,1401.7 1026,1402.4 1027,1402.2 1028,1400.9 1029,1400.2 1030,1400.9 1031.1,1401.2 1032.1,1401.6 1033.1,1402.2 1034.1,1402.4 1035.1,1400.3 1036.1,1402.2 1037.1,1402.2 1038.1,1402.3 1039.1,1401.6 1040.1,1400.9 1041.1,1402.3 1042.1,1402.2 1043.1,1401.9 1044.1,1402.4 1045.1,1401.1 1046.1,1400.4 1047.1,1401.6 1048.1,1402.2 1049.1,1400.7 1050.1,1402 1051.1,1402.5 1052.1,1400.8 1053.1,1401.7 1054.1,1401.9 1055.1,1401.4 1056.1,1400.7 1057.1,1400.9 1058.1,1402 1059.1,1402.1 1060.1,1401.3 1061.1,1400.5 1062.1,1402.2 1063.1,1402.1 1064.1,1400.8 1065.1,1401.6 1066.1,1402.4 1067.1,1402.4 1068.1,1401.5 1069.1,1401.4 1070.1,1401.7 1071.1,1400.7 1072.1,1400.7 1073.1,1400.7 1074.1,1401.9 1075.1,1401.1 1076.1,1401.6 1077.1,1401.2 1078.1,1401.5 1079.1,1400.6 1080.1,1400.4 1081.1,1402.6 1082.1,1401.1 1083.1,1400.5 1084.1,1401.8 1085.1,1402.1 1086.2,1400.6 1087.2,1401.7 1088.2,1401.1 1089.2,1401.5 1090.2,1400.3 1091.2,1400.3 1092.2,1402.6 1093.2,1402.3 1094.2,1401.4 1095.2,1401.6 1096.2,1400.9 1097.2,1402.1 1098.2,1401.3 1099.2,1402.5 1100.2,1402.1 1101.2,1402.2 1102.2,1402.6 1103.2,1400.9 1104.2,1400.3 1105.2,1400.7 1106.2,1400.7 1107.2,1400.5 1108.2,1400.4 1109.2,1401.6 1110.2,1402.3 1111.2,1401.4 1112.2,1402.5 1113.2,1402.4 1114.2,1400.4 1115.2,1401.7 1116.2,1401.2 1117.2,1400.5 1118.2,1402.6"/>
<polyline fill="none" stroke="#555555" stroke-width="8.3" stroke-linejoin="round" points="236.6,1907.0 236.6,1595.5 236.6,1583.3 237.6,1582.2 238.6,1581 239.6,1580.2 240.6,1578.8 241.6,1577.5 242.6,1576.7 243.6,1575.5 244.6,1575.8 245.6,1575.2 246.6,1573.7 247.6,1572.9 248.6,1572.7 249.6,1572.4 250.6,1572.7 251.6,1572.3 252.6,1571.9 253.6,1570.7 254.6,1571.3 255.6,1570.9 256.6,1570.6 257.6,1570.8 258.6,1569.5 259.6,1569.4 260.6,1570 261.6,1570 262.6,1569.5 263.6,1568.9 264.7,1569.2 265.7,1569.2 266.7,1568.3 267.7,1568.5 268.7,1568.3 269.7,1568 270.7,1568.4 271.7,1567.9 272.7,1567.9 273.7,1567.7 274.7,1568.2 275.7,1567.4 276.7,1568.1 277.7,1567.4 278.7,1567.2 279.7,1568.2 280.7,1567.2 281.7,1568 282.7,1567.9 283.7,1567.9 284.7,1566.9 285.7,1567.2 286.7,1566.7 287.7,1567.7 288.7,1567.5 289.7,1567.2 290.7,1566.9 291.7,1566.7 292.7,1567.3 293.7,1566.8 294.7,1566.9 295.7,1566.3 296.7,1566.3 297.7,1566.1 298.7,1566.8 299.7,1566.6 300.7,1566 301.7,1566.9 302.7,1566.1 303.7,1566.2 304.7,1565.9 305.7,1566 306.7,1566.6 307.7,1565.9 308.7,1565.7 309.7,1566 310.7,1565.8 311.7,1566.5 312.7,1565.5 313.7,1566.5 314.7,1565.3 315.7,1566.3 316.7,1566 317.7,1565.4 318.8,1565.7 319.8,1565.4 320.8,1565.3 321.8,1565.2 322.8,1565.4 323.8,1566.1 324.8,1566.1 325.8,1565.9 326.8,1564.9 327.8,1565.1 328.8,1565.8 329.8,1564.8 330.8,1565.5 331.8,1565 332.8,1565.8 333.8,1564.6 334.8,1565.5 335.8,1564.9 336.8,1564.6 337.8,1564.4 338.8,1565.4 339.8,1565 340.8,1564.6 341.8,1564.8 342.8,1565.4 343.8,1564.5 344.8,1564.9 345.8,1564.4 346.8,1564.4 347.8,1565.1 348.8,1565 349.8,1564.3 350.8,1564.2 351.8,1564.2 352.8,1564.7 353.8,1564.6 354.8,1564.3 355.8,1564.2 356.8,1564.7 357.8,1564.7 358.8,1564.8 359.8,1564.5 360.8,1564.1 361.8,1563.9 362.8,1564.7 363.8,1564.2 364.8,1564.6 365.8,1563.8 366.8,1564.7 367.8,1564.1 368.8,1564.7 369.8,1564.7 370.8,1564.2 371.8,1563.6 372.8,1564.6 373.9,1564.1 374.9,1564.6 375.9,1563.8 376.9,1563.7 377.9,1564.5 378.9,1563.9 379.9,1563.6 380.9,1563.8 381.9,1564.1 382.9,1563.4 383.9,1564 384.9,1563.9 385.9,1563.9 386.9,1563.4 387.9,1564.1 388.9,1564.2 389.9,1564.3 390.9,1563.6 391.9,1564.1 392.9,1563.6 393.9,1564.1 394.9,1563.2 395.9,1564.2 396.9,1564.3 397.9,1563.7 398.9,1563.7 399.9,1563.7 400.9,1563.7 401.9,1563.1 402.9,1564.2 403.9,1563.3 404.9,1563.2 405.9,1563.1 406.9,1563.3 407.9,1563.9 408.9,1563 409.9,1563.1 410.9,1563.8 411.9,1563.1 412.9,1562.9 413.9,1563.6 414.9,1563.6 415.9,1563.5 416.9,1563.7 417.9,1563 418.9,1563.9 419.9,1563.7 420.9,1562.8 421.9,1562.9 422.9,1563.4 423.9,1563.4 424.9,1563.1 425.9,1562.9 426.9,1563.2 427.9,1562.9 429,1563.4 430,1563.7 431,1562.9 432,1563.4 433,1563.6 434,1562.8 435,1563.6 436,1563.8 437,1563.1 438,1563.1 439,1563.6 440,1563.2 441,1563.1 442,1563.7 443,1563.5 444,1563 445,1562.8 446,1562.9 447,1563 448,1563.7 449,1563.5 450,1563.6 451,1563.5 452,1563.5 453,1562.5 454,1563.1 455,1563.6 456,1563.6 457,1562.7 458,1562.9 459,1563.2 460,1562.9 461,1563 462,1562.5 463,1562.9 464,1563 465,1562.4 466,1562.5 467,1563.5 468,1563.3 469,1563.5 470,1563.1 471,1563.3 472,1563.4 473,1563.4 474,1562.4 475,1563.1 476,1562.6 477,1563.1 478,1562.6 479,1562.9 480,1563.4 481,1563 482,1562.6 483.1,1562.9 484.1,1562.8 485.1,1563.4 486.1,1562.6 487.1,1562.6 488.1,1563 489.1,1562.4 490.1,1562.9 491.1,1563.4 492.1,1562.8 493.1,1562.5 494.1,1562.8 495.1,1562.8 496.1,1562.4 497.1,1562.3 498.1,1562.3 499.1,1562.5 500.1,1562.7 501.1,1562.5 502.1,1562.5 503.1,1562.3 504.1,1562.8 505.1,1563.2 506.1,1562.9 507.1,1562.8 508.1,1562.9 509.1,1562.4 510.1,1563 511.1,1562.7 512.1,1562.8 513.1,1562.9 514.1,1562.7 515.1,1562.5 516.1,1562.4 517.1,1562.4 518.1,1562.7 519.1,1562.6 520.1,1562.8 521.1,1562.1 522.1,1562.5 523.1,1563.1 524.1,1562.4 525.1,1562.7 526.1,1562.7 527.1,1562.4 528.1,1563.2 529.1,1562.4 530.1,1563 531.1,1562.2 532.1,1562.1 533.1,1563.1 534.1,1562.6 535.1,1562.1 536.1,1562.5 537.1,1562.6 538.2,1562.9 539.2,1562.2 540.2,1562.3 541.2,1563.2 542.2,1562.9 543.2,1562.2 544.2,1562.4 545.2,1562.4 546.2,1562.8 547.2,1562.7 548.2,1563 549.2,1563 550.2,1562.6 551.2,1562.9 552.2,1562.9 553.2,1562.9 554.2,1562.5 555.2,1562.9 556.2,1562.8 557.2,1563.1 558.2,1562.1 559.2,1563 560.2,1562 561.2,1562.9 562.2,1562.7 563.2,1562.6 564.2,1563.1 565.2,1562.6 566.2,1562.4 567.2,1562.9 568.2,1563 569.2,1562.7 570.2,1562.4 571.2,1562.5 572.2,1562.5 573.2,1562.8 574.2,1562.3 575.2,1562.4 576.2,1562.6 577.2,1562.4 578.2,1562.3 579.2,1562.9 580.2,1562.9 581.2,1562.5 582.2,1562.4 583.2,1562.1 584.2,1562.3 585.2,1562.1 586.2,1562.6 587.2,1562.6 588.2,1562 589.2,1563 590.2,1562.3 591.2,1562.9 592.2,1562.9 593.3,1563 594.3,1562.1 595.3,1562.4 596.3,1563 597.3,1561.9 598.3,1561.9 599.3,1562.6 600.3,1562.5 601.3,1563 602.3,1562.8 603.3,1562.5 604.3,1563.1 605.3,1562.5 606.3,1562.5 607.3,1562.7 608.3,1562.3 609.3,1562.3 610.3,1562.6 611.3,1562.3 612.3,1563 613.3,1562.7 614.3,1562.5 615.3,1562 616.3,1562.3 617.3,1562.3 618.3,1562.5 619.3,1562.5 620.3,1562.9 621.3,1563 622.3,1562.4 623.3,1562.4 624.3,1562.6 625.3,1563 626.3,1562.3 627.3,1562.5 628.3,1562.8 629.3,1562 630.3,1562.2 631.3,1563 632.3,1562.8 633.3,1562.5 634.3,1562 635.3,1562.9 636.3,1562.7 637.3,1562.8 638.3,1563 639.3,1562.9 640.3,1562.3 641.3,1562 642.3,1562.2 643.3,1562.4 644.3,1562.4 645.3,1562.1 646.3,1562 647.4,1562.6 648.4,1562.5 649.4,1562.2 650.4,1563 651.4,1562.6 652.4,1561.9 653.4,1562.3 654.4,1562.8 655.4,1562.2 656.4,1562.6 657.4,1561.8 658.4,1562.2 659.4,1562.8 660.4,1562.5 661.4,1562.6 662.4,1562 663.4,1562.4 664.4,1562.5 665.4,1562.1 666.4,1562.6 667.4,1562.4 668.4,1563 669.4,1562.5 670.4,1562.3 671.4,1562 672.4,1562 673.4,1562.7 674.4,1561.9 675.4,1561.9 676.4,1562 677.4,1562.4 678.4,1562.8 679.4,1562.5 680.4,1562.8 681.4,1561.9 682.4,1561.8 683.4,1562.7 684.4,1562.2 685.4,1562.7 686.4,1562.2 687.4,1562 688.4,1562.1 689.4,1561.9 690.4,1562.9 691.4,1562.5 692.4,1562.2 693.4,1562.3 694.4,1562.3 695.4,1561.9 696.4,1562.9 697.4,1562.5 698.4,1562.9 699.4,1562.3 700.4,1562.5 701.4,1562.1 702.5,1561.8 703.5,1562.9 704.5,1562.8 705.5,1562.2 706.5,1562.9 707.5,1562.8 708.5,1562.2 709.5,1562.5 710.5,1562.9 711.5,1562.4 712.5,1562.9 713.5,1562.1 714.5,1562.3 715.5,1562.6 716.5,1562 717.5,1562.2 718.5,1562.8 719.5,1562.4 720.5,1562.7 721.5,1562.1 722.5,1562 723.5,1562.2 724.5,1562 725.5,1562.9 726.5,1562.1 727.5,1562.5 728.5,1561.9 729.5,1562.4 730.5,1562.2 731.5,1562.3 732.5,1561.9 733.5,1561.9 734.5,1562.8 735.5,1562.2 736.5,1562.1 737.5,1562 738.5,1562.1 739.5,1562.1 740.5,1561.8 741.5,1562.6 742.5,1562.2 743.5,1562 744.5,1562.6 745.5,1561.9 746.5,1562.1 747.5,1562.8 748.5,1561.9 749.5,1562.3 750.5,1562.8 751.5,1562.7 752.5,1562 753.5,1562.2 754.5,1562.6 755.5,1562.2 756.5,1562.9 757.6,1562 758.6,1562.9 759.6,1562.4 760.6,1562 761.6,1562.3 762.6,1561.9 763.6,1562.6 764.6,1562.1 765.6,1562.8 766.6,1562.5 767.6,1562.2 768.6,1562.1 769.6,1562.5 770.6,1562 771.6,1562.8 772.6,1561.9 773.6,1562.4 774.6,1562.4 775.6,1562.1 776.6,1562.7 777.6,1562.2 778.6,1562.6 779.6,1562.4 780.6,1562.1 781.6,1562.2 782.6,1561.9 783.6,1562 784.6,1562.8 785.6,1562.1 786.6,1562.6 787.6,1561.9 788.6,1562.4 789.6,1562.2 790.6,1562.4 791.6,1562.1 792.6,1561.8 793.6,1562.1 794.6,1562 795.6,1561.9 796.6,1562.6 797.6,1562.1 798.6,1562.2 799.6,1562.9 800.6,1562.7 801.6,1562.8 802.6,1562.8 803.6,1561.9 804.6,1562.1 805.6,1561.8 806.6,1562.6 807.6,1562.6 808.6,1562.2 809.6,1562.3 810.6,1562.5 811.7,1562.6 812.7,1562.1 813.7,1562.8 814.7,1562.2 815.7,1562.5 816.7,1562 817.7,1561.9 818.7,1562.9 819.7,1562.6 820.7,1562.6 821.7,1561.8 822.7,1561.8 823.7,1562 824.7,1562 825.7,1562.1 826.7,1562.2 827.7,1561.8 828.7,1562.1 829.7,1562.5 830.7,1562 831.7,1562.8 832.7,1562.4 833.7,1562.6 834.7,1562.1 835.7,1562.3 836.7,1562.6 837.7,1562.2 838.7,1561.8 839.7,1562.8 840.7,1562.7 841.7,1562.1 842.7,1561.8 843.7,1562.8 844.7,1562.5 845.7,1561.8 846.7,1562 847.7,1561.9 848.7,1562.7 849.7,1562 850.7,1562.9 851.7,1562.7 852.7,1561.9 853.7,1562.6 854.7,1562.2 855.7,1562.7 856.7,1562.7 857.7,1562.1 858.7,1561.9 859.7,1562.9 860.7,1562.3 861.7,1562.9 862.7,1562.6 863.7,1562.6 864.7,1562.7 865.7,1562.5 866.8,1562.3 867.8,1561.8 868.8,1562.6 869.8,1562.3 870.8,1562.4 871.8,1562.9 872.8,1561.9 873.8,1562.7 874.8,1561.8 875.8,1562.6 876.8,1562.7 877.8,1562.1 878.8,1562.4 879.8,1562.9 880.8,1562.5 881.8,1562.4 882.8,1562.1 883.8,1561.8 884.8,1562.2 885.8,1562.2 886.8,1562 887.8,1562.1 888.8,1561.9 889.8,1562.6 890.8,1562.6 891.8,1562 892.8,1562 893.8,1562.4 894.8,1562.3 895.8,1562.9 896.8,1562.2 897.8,1562.1 898.8,1562.8 899.8,1561.9 900.8,1562.4 901.8,1562.2 902.8,1562.7 903.8,1562.4 904.8,1562.7 905.8,1562 906.8,1562.5 907.8,1562.5 908.8,1562.3 909.8,1562.7 910.8,1562.7 911.8,1561.9 912.8,1562.1 913.8,1562.2 914.8,1562 915.8,1561.8 916.8,1562.1 917.8,1562 918.8,1562.6 919.8,1562.3 920.8,1561.9 921.9,1562.1 922.9,1562.3 923.9,1562.2 924.9,1562 925.9,1561.8 926.9,1561.8 927.9,1562.9 928.9,1562.6 929.9,1561.8 930.9,1562.6 931.9,1562.9 932.9,1562.4 933.9,1561.9 934.9,1562.3 935.9,1562.3 936.9,1562 937.9,1562.4 938.9,1561.8 939.9,1562.9 940.9,1562.5 941.9,1562.5 942.9,1562.9 943.9,1562.5 944.9,1562.1 945.9,1562 946.9,1561.9 947.9,1561.8 948.9,1562.7 949.9,1562.8 950.9,1562.1 951.9,1562 952.9,1562.5 953.9,1562.8 954.9,1562.9 955.9,1562 956.9,1562.7 957.9,1562.7 958.9,1562.6 959.9,1562.1 960.9,1562 961.9,1562.7 962.9,1562.1 963.9,1562.2 964.9,1562.4 965.9,1562.2 966.9,1562.7 967.9,1562 968.9,1561.8 969.9,1562.4 970.9,1562.5 971.9,1562.7 972.9,1562.6 973.9,1562.8 974.9,1562.9 976,1562.3 977,1562.3 978,1561.9 979,1562.1 980,1562.4 981,1561.8 982,1562.6 983,1561.9 984,1562.3 985,1562.9 986,1561.9 987,1561.8 988,1562.3 989,1562 990,1562.6 991,1561.8 992,1562.8 993,1562.8 994,1562.7 995,1562.3 996,1562.1 997,1562.5 998,1562.4 999,1562.3 1000,1562.2 1001,1562.3 1002,1562.5 1003,1562.7 1004,1562.8 1005,1561.9 1006,1562.1 1007,1562.3 1008,1562.4 1009,1562.2 1010,1562 1011,1561.8 1012,1562.1 1013,1562.3 1014,1562.9 1015,1562.8 1016,1562.8 1017,1562.9 1018,1562.9 1019,1562.5 1020,1562.7 1021,1561.8 1022,1562.6 1023,1562.5 1024,1562.1 1025,1562.4 1026,1562.9 1027,1562.3 1028,1562.5 1029,1562.1 1030,1562.2 1031.1,1562.8 1032.1,1561.8 1033.1,1562 1034.1,1562.6 1035.1,1562.3 1036.1,1561.8 1037.1,1562.5 1038.1,1562.2 1039.1,1562.4 1040.1,1562.2 1041.1,1562.4 1042.1,1562.4 1043.1,1562.2 1044.1,1561.9 1045.1,1562 1046.1,1562.8 1047.1,1562.4 1048.1,1561.9 1049.1,1562.8 1050.1,1562.1 1051.1,1561.9 1052.1,1562.4 1053.1,1562 1054.1,1562.3 1055.1,1562.4 1056.1,1562 1057.1,1562.4 1058.1,1561.9 1059.1,1562.4 1060.1,1562.5 1061.1,1561.8 1062.1,1562.2 1063.1,1561.8 1064.1,1562.3 1065.1,1562.8 1066.1,1562.4 1067.1,1562.6 1068.1,1562.7 1069.1,1561.9 1070.1,1562.9 1071.1,1562.6 1072.1,1561.9 1073.1,1562.7 1074.1,1562.2 1075.1,1562 1076.1,1562.9 1077.1,1562.4 1078.1,1562.7 1079.1,1561.9 1080.1,1562.7 1081.1,1561.8 1082.1,1562 1083.1,1562.2 1084.1,1561.8 1085.1,1562.5 1086.2,1562 1087.2,1562.1 1088.2,1562.6 1089.2,1562.3 1090.2,1562.8 1091.2,1562.5 1092.2,1562.8 1093.2,1562.4 1094.2,1562.8 1095.2,1562.8 1096.2,1561.9 1097.2,1562.6 1098.2,1562.2 1099.2,1562.7 1100.2,1562.6 1101.2,1562.7 1102.2,1561.9 1103.2,1562.2 1104.2,1562.6 1105.2,1562.9 1106.2,1562.6 1107.2,1561.8 1108.2,1562.5 1109.2,1561.9 1110.2,1562.4 1111.2,1562.7 1112.2,1561.9 1113.2,1562.9 1114.2,1562.6 1115.2,1562.1 1116.2,1562 1117.2,1562.3 1118.2,1562.8"/>
<path d="M236.6 1907.0V1199.0H1118.2V1907.0" fill="none" stroke="#111" stroke-width="4.6"/>
<path d="M234.29999999999998 1907.0H1120.5" fill="none" stroke="#333" stroke-width="5"/>
<path d="M236.6 1909.0V1589.8" fill="none" stroke="#555" stroke-width="5"/>
<path d="M236.6 1765.4h13M236.6 1623.8h13M236.6 1482.2h13M236.6 1340.6h13M236.6 1836.2h7M236.6 1694.6h7M236.6 1553h7M236.6 1411.4h7M236.6 1269.8h7M383.5 1907.0v-15M530.5 1907.0v-15M677.4 1907.0v-15M824.3 1907.0v-15M971.3 1907.0v-15M310.1 1907.0v-8M457 1907.0v-8M603.9 1907.0v-8M750.9 1907.0v-8M897.8 1907.0v-8M1044.7 1907.0v-8" stroke="#222" stroke-width="4" fill="none"/>
<text x="223.6" y="1924" font-size="62" fill="#000" text-anchor="end" class="ser" font-weight="bold" stroke="#000" stroke-width="1.0">0</text>
<text x="223.6" y="1782.4" font-size="62" fill="#000" text-anchor="end" class="ser" font-weight="bold" stroke="#000" stroke-width="1.0">5</text>
<text x="223.6" y="1640.8" font-size="62" fill="#000" text-anchor="end" class="ser" font-weight="bold" stroke="#000" stroke-width="1.0">10</text>
<text x="223.6" y="1499.2" font-size="62" fill="#000" text-anchor="end" class="ser" font-weight="bold" stroke="#000" stroke-width="1.0">15</text>
<text x="223.6" y="1357.6" font-size="62" fill="#000" text-anchor="end" class="ser" font-weight="bold" stroke="#000" stroke-width="1.0">20</text>
<text x="223.6" y="1216" font-size="62" fill="#000" text-anchor="end" class="ser" font-weight="bold" stroke="#000" stroke-width="1.0">25</text>
<text x="236.6" y="1969.5" font-size="62" fill="#000" text-anchor="middle" class="ser" font-weight="bold" stroke="#000" stroke-width="1.0">0</text>
<text x="383.5" y="1969.5" font-size="62" fill="#000" text-anchor="middle" class="ser" font-weight="bold" stroke="#000" stroke-width="1.0">50</text>
<text x="530.5" y="1969.5" font-size="62" fill="#000" text-anchor="middle" class="ser" font-weight="bold" stroke="#000" stroke-width="1.0">100</text>
<text x="677.4" y="1969.5" font-size="62" fill="#000" text-anchor="middle" class="ser" font-weight="bold" stroke="#000" stroke-width="1.0">150</text>
<text x="824.3" y="1969.5" font-size="62" fill="#000" text-anchor="middle" class="ser" font-weight="bold" stroke="#000" stroke-width="1.0">200</text>
<text x="971.3" y="1969.5" font-size="62" fill="#000" text-anchor="middle" class="ser" font-weight="bold" stroke="#000" stroke-width="1.0">250</text>
<text x="1118.2" y="1969.5" font-size="62" fill="#000" text-anchor="middle" class="ser" font-weight="bold" stroke="#000" stroke-width="1.0">300</text>
<text x="676.4" y="2061.5" font-size="62" fill="#000" text-anchor="middle" class="ser" font-weight="bold" stroke="#000" stroke-width="1.0">Time (s)</text>
<text transform="translate(137.5,1551.4) rotate(-90)" font-size="61.3" fill="#000" text-anchor="middle" class="ser" font-weight="bold" stroke="#000" stroke-width="1.0">PCE (%)</text>
<text transform="translate(72,1163) scale(0.87,1)" font-size="72" fill="#0c0c0c" letter-spacing="8.5">(c)</text>
<text x="938.5" y="1327" font-size="37" fill="#0c0c0c" stroke="#0c0c0c" stroke-width="0.5">20.06%</text>
<text x="724" y="1450" font-size="37" fill="#0c0c0c" stroke="#0c0c0c" stroke-width="0.5">18.02%</text>
<text x="682" y="1610.5" font-size="37" fill="#0c0c0c" stroke="#0c0c0c" stroke-width="0.5">12.09%</text>
<path d="M293 1669.7H430.5" stroke="#555555" stroke-width="5.6"/><circle cx="362" cy="1669.7" r="4.6" fill="#555555"/>
<text x="441.5" y="1689.2" font-size="60" fill="#000" class="ser" stroke="#000" stroke-width="0.8">n=5</text>
<path d="M293 1743.7H430.5" stroke="#ff4242" stroke-width="5.6"/><circle cx="362" cy="1743.7" r="4.6" fill="#ff4242"/>
<text x="441.5" y="1763.2" font-size="60" fill="#000" class="ser" stroke="#000" stroke-width="0.8">n=9</text>
<path d="M293 1815.5H430.5" stroke="#0078f0" stroke-width="5.6"/><circle cx="362" cy="1815.5" r="4.6" fill="#0078f0"/>
<text x="441.5" y="1835" font-size="60" fill="#000" class="ser" stroke="#000" stroke-width="0.8">n=100</text>
</g>
<g id="panel-d">
<path d="M1813.9 970.7V1681.4M1954.7 970.7V1681.4" stroke="#d6d6d6" stroke-width="3.8" stroke-dasharray="4 3" fill="none"/>
<rect x="1770" y="1182" width="76" height="52" fill="#fff"/><rect x="1908" y="1246" width="76" height="52" fill="#fff"/>
<path fill="none" stroke="#0808ff" stroke-width="4.7" stroke-linejoin="round" stroke-linecap="round" d="M1572.2 1556.7L1581.1 1538.9L1587 1521L1593 1524L1594.5 1488.5L1596 1479.5L1599 1487L1606.4 1485.5L1610.8 1458.8L1615.3 1452.8L1621.2 1438L1627.1 1435L1631.6 1403.8L1637.5 1403.8C1638.8 1402.5 1642.3 1397.8 1645 1395.8C1647.7 1393.8 1650.9 1391.9 1653.9 1392C1656.9 1392.1 1659.8 1396.1 1662.8 1396.4C1665.8 1396.7 1669 1392.8 1671.7 1394C1674.4 1395.2 1676.9 1402 1679.1 1403.8C1681.3 1405.6 1682.8 1403 1685 1404.7C1687.2 1406.4 1690 1411.7 1692.5 1414.2C1695 1416.7 1696.2 1415.4 1699.9 1419.6C1703.6 1423.8 1708.8 1432 1714.7 1439.5C1720.6 1447 1729.1 1456.8 1735.5 1464.7C1741.9 1472.6 1747.8 1478.6 1753.3 1487C1758.8 1495.4 1764 1508.8 1768.2 1515.2C1772.4 1521.6 1775.6 1525.1 1778.6 1525.6C1781.6 1526.1 1783.8 1523.8 1786 1518.1C1788.2 1512.4 1789.7 1503.8 1791.9 1491.4C1794.1 1479 1796.8 1454.8 1799.3 1443.9C1801.8 1433 1804.6 1427.6 1806.8 1426.1C1809 1424.6 1810.2 1426.1 1812.7 1435C1815.2 1443.9 1818.6 1467.1 1821.6 1479.5C1824.6 1491.9 1827 1500.8 1830.5 1509.2C1834 1517.6 1838 1523.8 1842.4 1530C1846.9 1536.2 1851.3 1541 1857.2 1546.4C1863.1 1551.9 1872 1557.8 1878 1562.7C1884 1567.6 1887.7 1571.9 1892.9 1576C1898.1 1580.1 1905 1586.3 1909.2 1587.3C1913.4 1588.3 1915.1 1585.6 1918.1 1582C1921.1 1578.4 1923.8 1574.9 1927 1565.7C1930.2 1556.5 1934.4 1537 1937.4 1527.1C1940.4 1517.2 1942.7 1510.5 1944.8 1506.3C1946.9 1502.1 1948 1500.8 1950.2 1501.8C1952.4 1502.8 1955.4 1506 1958.2 1512.2C1961 1518.4 1963.6 1530.5 1967.1 1538.9C1970.6 1547.3 1974.5 1556.3 1979 1562.7C1983.5 1569.1 1988.8 1573.8 1993.8 1577.5C1998.8 1581.2 2003.3 1583.8 2008.7 1585C2014.1 1586.2 2021.4 1586.2 2026.3 1585C2031.2 1583.8 2034.1 1579.4 2038.1 1577.5C2042 1575.6 2046 1574 2050 1573.7C2054 1573.5 2057 1574.1 2061.9 1576C2066.8 1577.9 2073.8 1582.8 2079.7 1585C2085.6 1587.2 2089.6 1588.6 2097.5 1589.4C2105.4 1590.2 2117.3 1589.2 2127.2 1590C2137.1 1590.8 2147 1592.9 2156.9 1593.9C2166.8 1594.9 2170.3 1595.7 2186.6 1596C2202.9 1596.3 2240.1 1596.8 2254.9 1596C2269.8 1595.2 2269.8 1593.7 2275.7 1590.9C2281.6 1588.1 2285.6 1584.2 2290.5 1579C2295.4 1573.8 2300.5 1566.6 2305.4 1559.7C2310.3 1552.8 2315.3 1542.8 2320.2 1537.5C2325.1 1532.2 2330.6 1528.2 2335 1527.7C2339.4 1527.2 2342 1528.9 2346.9 1534.5C2351.8 1540.1 2358.8 1552.5 2364.7 1561.2C2370.6 1569.9 2376.2 1580 2382.6 1586.4C2389 1592.8 2396.4 1596.8 2403.3 1599.8C2410.2 1602.8 2415.7 1603.2 2424.1 1604.3C2432.5 1605.4 2448.9 1606.2 2453.8 1606.6"/>
<rect x="1572.0" y="970.7" width="882.5999999999999" height="710.7" fill="none" stroke="#666666" stroke-width="3.6"/>
<path d="M1558.0 970.7H1572.0M1565.0 1035.3H1572.0M1558.0 1099.9H1572.0M1565.0 1164.6H1572.0M1558.0 1229.2H1572.0M1565.0 1293.8H1572.0M1558.0 1358.4H1572.0M1565.0 1423H1572.0M1558.0 1487.7H1572.0M1565.0 1552.3H1572.0M1558.0 1616.9H1572.0M1565.0 1681.5H1572.0M1571.7 1681.4v7M1595.7 1681.4v7M1619.7 1681.4v13M1643.7 1681.4v7M1667.7 1681.4v7M1691.6 1681.4v7M1715.6 1681.4v7M1739.6 1681.4v13M1763.6 1681.4v7M1787.6 1681.4v7M1811.5 1681.4v7M1835.5 1681.4v7M1859.5 1681.4v13M1883.5 1681.4v7M1907.5 1681.4v7M1931.4 1681.4v7M1955.4 1681.4v7M1979.4 1681.4v13M2003.4 1681.4v7M2027.4 1681.4v7M2051.3 1681.4v7M2075.3 1681.4v7M2099.3 1681.4v13M2123.3 1681.4v7M2147.3 1681.4v7M2171.2 1681.4v7M2195.2 1681.4v7M2219.2 1681.4v13M2243.2 1681.4v7M2267.2 1681.4v7M2291.1 1681.4v7M2315.1 1681.4v7M2339.1 1681.4v13M2363.1 1681.4v7M2387.1 1681.4v7M2411 1681.4v7M2435 1681.4v7" stroke="#555" stroke-width="3" fill="none"/>
<text x="1619.7" y="1728.5" font-size="29.5" fill="#868686" text-anchor="middle">500</text>
<text x="1739.6" y="1728.5" font-size="29.5" fill="#868686" text-anchor="middle">550</text>
<text x="1859.5" y="1728.5" font-size="29.5" fill="#868686" text-anchor="middle">600</text>
<text x="1979.4" y="1728.5" font-size="29.5" fill="#868686" text-anchor="middle">650</text>
<text x="2099.3" y="1728.5" font-size="29.5" fill="#868686" text-anchor="middle">700</text>
<text x="2219.2" y="1728.5" font-size="29.5" fill="#868686" text-anchor="middle">750</text>
<text x="2339.1" y="1728.5" font-size="29.5" fill="#868686" text-anchor="middle">800</text>
<text x="2013.6" y="1783.4" font-size="37.2" fill="#4a4a4a" text-anchor="middle" stroke="#4a4a4a" stroke-width="0.4">Wavelength (nm)</text>
<text transform="translate(1505.5,1305.7) rotate(-90)" font-size="37" fill="#4a4a4a" text-anchor="middle" stroke="#4a4a4a" stroke-width="0.4">Differential Aabsorbance</text>
<text transform="translate(1773.5,1223.5) scale(0.97,1)" font-size="39" fill="#111" stroke="#111" stroke-width="0.8">n=2</text>
<text transform="translate(1913,1285.7) scale(0.97,1)" font-size="39" fill="#111" stroke="#111" stroke-width="0.8">n=3</text>
<path d="M2244 1019.5H2328" stroke="#0a0aff" stroke-width="6" stroke-linecap="round"/>
<text transform="translate(2336,1032.3) scale(0.97,1)" font-size="39" fill="#111" stroke="#111" stroke-width="0.8">n=5</text>
</g>
</g>
</svg>
</body></html>
